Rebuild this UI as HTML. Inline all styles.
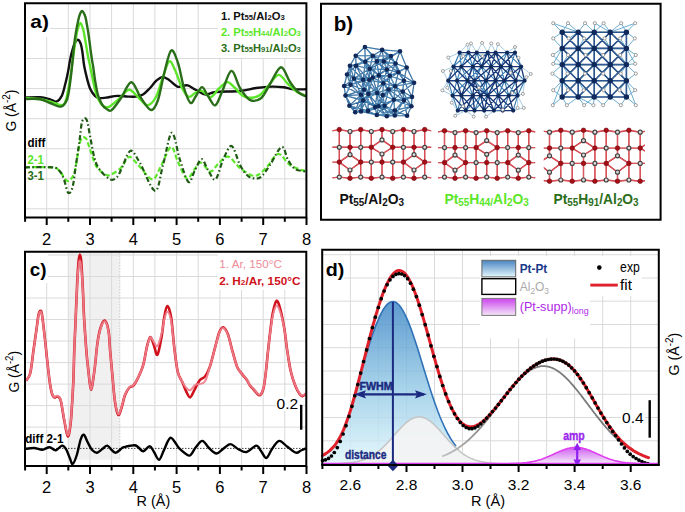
<!DOCTYPE html>
<html><head><meta charset="utf-8"><title>Figure</title>
<style>
html,body{margin:0;padding:0;background:#fff;}
svg{display:block;font-family:"Liberation Sans", sans-serif;}
</style></head><body>
<svg width="685" height="512" viewBox="0 0 685 512">
<rect width="685" height="512" fill="#fff"/>
<line x1="46.7" y1="3" x2="46.7" y2="217" stroke="#dadada" stroke-width="1"/>
<line x1="68.3" y1="3" x2="68.3" y2="217" stroke="#dadada" stroke-width="1"/>
<line x1="90" y1="3" x2="90" y2="217" stroke="#dadada" stroke-width="1"/>
<line x1="111.6" y1="3" x2="111.6" y2="217" stroke="#dadada" stroke-width="1"/>
<line x1="133.3" y1="3" x2="133.3" y2="217" stroke="#dadada" stroke-width="1"/>
<line x1="154.9" y1="3" x2="154.9" y2="217" stroke="#dadada" stroke-width="1"/>
<line x1="176.6" y1="3" x2="176.6" y2="217" stroke="#dadada" stroke-width="1"/>
<line x1="198.2" y1="3" x2="198.2" y2="217" stroke="#dadada" stroke-width="1"/>
<line x1="219.9" y1="3" x2="219.9" y2="217" stroke="#dadada" stroke-width="1"/>
<line x1="241.6" y1="3" x2="241.6" y2="217" stroke="#dadada" stroke-width="1"/>
<line x1="263.2" y1="3" x2="263.2" y2="217" stroke="#dadada" stroke-width="1"/>
<line x1="284.8" y1="3" x2="284.8" y2="217" stroke="#dadada" stroke-width="1"/>
<line x1="25" y1="28.5" x2="306" y2="28.5" stroke="#dadada" stroke-width="1"/>
<line x1="25" y1="58.5" x2="306" y2="58.5" stroke="#dadada" stroke-width="1"/>
<line x1="25" y1="88.6" x2="306" y2="88.6" stroke="#dadada" stroke-width="1"/>
<line x1="25" y1="118.7" x2="306" y2="118.7" stroke="#dadada" stroke-width="1"/>
<line x1="25" y1="148.7" x2="306" y2="148.7" stroke="#dadada" stroke-width="1"/>
<line x1="25" y1="178.8" x2="306" y2="178.8" stroke="#dadada" stroke-width="1"/>
<line x1="25" y1="208.8" x2="306" y2="208.8" stroke="#dadada" stroke-width="1"/>
<rect x="26" y="4" width="24" height="33" fill="#fff"/>
<rect x="218" y="4" width="87" height="53.8" fill="#fff"/>
<path d="M25,97.5 C27.5,97.5 35.8,96.9 40,97.2 C44.2,97.5 47.3,98.6 50,99.3 C52.7,100 54.4,102.1 56.4,101.6 C58.4,101 60.2,98.9 61.7,96 C63.2,93.1 64.1,88.4 65.2,84.3 C66.3,80.2 67.3,75.5 68.1,71.5 C68.9,67.5 69.3,63.7 70,60.3 C70.7,56.9 71.4,53.7 72.2,50.9 C73,48.1 73.7,45.5 74.6,43.6 C75.5,41.8 76.8,39.8 77.8,39.8 C78.8,39.8 79.8,41.5 80.6,43.5 C81.4,45.5 81.8,48.2 82.4,52 C83,55.8 83.4,61.6 84.2,66 C85,70.4 86,74.5 87,78.4 C88,82.3 89,86.3 90.4,89.3 C91.8,92.3 93.7,94.7 95.2,96.2 C96.7,97.7 97.5,98 99.3,98.2 C101.1,98.4 103,98 106,97.6 C109,97.2 113.9,96.1 117.6,95.9 C121.3,95.7 124.9,96.5 128,96.6 C131.1,96.7 133.5,96.9 136,96.6 C138.5,96.2 140.7,95.9 143,94.5 C145.3,93.1 147.8,90.2 150,88 C152.2,85.8 153.9,82.8 156,81 C158.1,79.2 160.2,77.3 162.4,77.1 C164.6,76.9 166.5,78.4 169,80 C171.5,81.6 175.1,85.6 177.3,86.6 C179.5,87.6 180.2,86.2 182,86 C183.8,85.8 185.6,84.7 187.9,85.4 C190.2,86.1 193.1,88.5 196,90 C198.9,91.5 202.1,94.2 205.4,94.5 C208.7,94.8 210.2,92.6 216,92 C221.8,91.4 233.3,91.7 240,91 C246.7,90.3 250.7,88.7 256,88 C261.3,87.3 267.4,86.7 272,86.6 C276.6,86.5 280,86.8 283.5,87.2 C287,87.7 289.2,89 293,89.3 C296.8,89.6 303.8,89.3 306,89.3" fill="none" stroke="#111" stroke-width="2.4"/>
<path d="M25,98 C27.5,98.2 35.8,98.4 40,99 C44.2,99.6 46.5,100.5 50,101.5 C53.5,102.5 58.6,105.1 61.1,105.2 C63.6,105.3 64,104.4 65.2,101.9 C66.4,99.4 67.1,95.1 68.1,90.2 C69.1,85.3 70.2,77.5 71,72.6 C71.8,67.7 72.1,64.6 72.6,61 C73.1,57.4 73.5,54.5 74,50.9 C74.5,47.3 75.1,43.1 75.7,39.5 C76.3,35.9 76.8,32.2 77.6,29.5 C78.4,26.8 79.5,23 80.4,23 C81.3,23 82.4,26.8 83.2,29.5 C84,32.2 84.5,36.1 85.1,39.2 C85.7,42.3 86.1,45 86.6,48 C87.1,51 87.5,53.8 88.1,57 C88.7,60.2 89.6,63.4 90.4,67.4 C91.2,71.4 92.1,76.5 93.1,81.1 C94.1,85.7 95.1,90.9 96.5,94.8 C97.9,98.7 99.7,102.1 101.3,104.2 C102.9,106.3 104.5,106.9 106,107.2 C107.5,107.5 108.2,107.4 110.5,105.9 C112.8,104.4 116.9,100.7 120,98 C123.1,95.3 126,90 129,89.8 C132,89.6 134.9,94.4 138,97 C141.1,99.6 144.5,105.2 147.5,105.2 C150.5,105.2 153.6,101.2 156,97 C158.4,92.8 159.8,85.9 162,80 C164.2,74.1 166.8,63.3 169,61.6 C171.2,59.9 172.8,65.6 175,70 C177.2,74.4 179.7,83.5 182,88 C184.3,92.5 186.6,96 188.8,96.8 C191,97.6 193,94 195,93 C197,92 199.2,90.4 201,90.6 C202.8,90.8 204.3,92.9 206,94 C207.7,95.1 209.1,97.9 211.3,97 C213.5,96.1 216.3,91 219,88.5 C221.7,86 224.6,82.2 227.3,82.1 C230,82 232.4,85.7 235,88 C237.6,90.3 240.3,94.4 243,96 C245.7,97.6 248.6,97.9 251.4,97.7 C254.2,97.5 257.1,97.1 260,95 C262.9,92.9 265.9,88.3 269,85 C272.1,81.7 275.4,75.1 278.6,74.9 C281.8,74.7 284.9,81.2 288,84 C291.1,86.8 294,90 297,92 C300,94 304.5,95.1 306,95.7" fill="none" stroke="#5ce62a" stroke-width="2.4"/>
<path d="M25,99 C27.5,99 35.8,98.5 40,99.2 C44.2,99.9 46.5,101.8 50,103 C53.5,104.2 58.3,107.2 61.1,106.6 C63.9,106 65.5,103.2 67,99.5 C68.5,95.8 69,90.4 69.9,84.3 C70.8,78.2 71.7,69.4 72.4,63 C73.1,56.6 73.4,51 74,46 C74.6,41 75.1,37.5 75.8,33.3 C76.5,29 77.5,23.8 78.2,20.5 C78.9,17.2 79.5,15.1 80.2,13.5 C80.9,11.9 81.5,10.9 82.2,11 C82.9,11.1 83.6,12.6 84.2,13.8 C84.8,15.1 85.3,16.2 85.8,18.5 C86.3,20.8 86.8,23.9 87.4,27.4 C88,30.8 88.7,35.3 89.2,39.2 C89.8,43.1 90.2,47.5 90.7,51 C91.2,54.5 91.6,57.3 92,60 C92.4,62.7 92.8,63.9 93.3,67.4 C93.8,70.9 94.4,76.5 95.2,81.1 C96,85.7 96.8,90.9 97.9,94.8 C99,98.7 100.7,102.1 102,104.4 C103.3,106.7 104.4,107.5 106,108.5 C107.6,109.5 108.9,112 111.4,110.3 C113.9,108.5 117.7,102.7 121,98 C124.3,93.3 128,82.2 131.3,82.2 C134.6,82.2 137.7,93.4 141,98 C144.3,102.6 148.2,109.7 151,110 C153.8,110.3 155.8,106.3 158,100 C160.2,93.7 162.3,80.2 164.5,72 C166.7,63.8 168.9,52 171.2,50.5 C173.4,49 175.9,56.8 178,63 C180.1,69.2 181.9,81.3 184,88 C186.1,94.7 188.5,101.6 190.5,102.9 C192.5,104.2 194.1,98.6 196,96 C197.9,93.4 200,87.1 202,87.1 C204,87.1 205.8,93 208,96 C210.2,99 212.9,106.1 215.2,105.4 C217.5,104.7 219.3,97.8 222,92 C224.7,86.2 228.3,71.6 231.3,70.9 C234.3,70.2 236.9,83.2 240,88 C243.1,92.8 246.3,98.1 249.8,99.8 C253.3,101.5 257.6,100.8 261,98.2 C264.4,95.6 266.7,89.2 270,84 C273.3,78.8 277.7,67.6 281,67.3 C284.3,67 287.2,77.9 290,82 C292.8,86.1 295.3,89.6 298,92 C300.7,94.4 304.7,95.8 306,96.5" fill="none" stroke="#2b6e1a" stroke-width="2.4"/>
<path d="M25,167.3 C29.5,167.3 46.3,166.8 52,167.3 C57.7,167.9 56.9,168.4 59.3,170.6 C61.7,172.8 64.5,178.8 66.4,180.3 C68.3,181.8 69.3,181.2 70.8,179.4 C72.2,177.7 73.5,176.2 75.1,169.8 C76.7,163.4 78.6,146.1 80.4,140.8 C82.2,135.5 84.2,137.1 85.7,138.1 C87.2,139.1 87.5,142.2 89.2,146.9 C91,151.6 93.6,161.7 96.2,166.2 C98.8,170.7 102.7,172.6 105,174.1 C107.3,175.6 107.7,176 110.3,175 C112.9,174 118.2,170.5 120.8,168 C123.4,165.5 124.5,161.9 126.1,160.1 C127.7,158.3 128.2,155.9 130.5,157.1 C132.8,158.2 136.3,163.3 140,167 C143.7,170.7 149,179.6 152.5,179.4 C156,179.2 157.9,171.4 161,166 C164.1,160.6 168.2,147.6 171,146.9 C173.8,146.2 175.4,156.7 178,162 C180.6,167.3 184.1,177.2 186.8,178.5 C189.5,179.8 191.7,172.6 194,170 C196.3,167.4 198.1,162.4 200.8,162.7 C203.6,162.9 207.6,171.3 210.5,171.5 C213.4,171.7 215.1,166.5 218,164 C220.9,161.5 224.3,155.9 228,156.6 C231.7,157.3 235.6,164.8 240,168 C244.4,171.2 250.2,175.9 254.5,175.9 C258.8,175.9 262.1,171.7 266,168 C269.9,164.3 274.2,154.5 278.2,154 C282.2,153.5 285.4,162.1 290,165 C294.6,167.9 303.3,170.4 306,171.5" fill="none" stroke="#5ce62a" stroke-width="2.2" stroke-linejoin="round" stroke-dasharray="5,2.5"/>
<path d="M25,167.3 C29.5,167.3 46.3,166.8 52,167.3 C57.7,167.9 57.3,168.7 59.3,170.6 C61.2,172.5 62.2,174.8 63.7,178.5 C65.2,182.2 66.6,191.1 68.1,192.6 C69.6,194.1 71.2,192 72.5,187.3 C73.8,182.6 74.8,172.2 76,164.5 C77.2,156.8 78.5,148 79.5,140.8 C80.5,133.6 81,124.9 82.2,121.4 C83.4,117.9 85.3,117.2 86.6,119.7 C87.9,122.2 88.8,130 90.1,136.4 C91.4,142.8 92.9,152.7 94.5,158.3 C96.1,163.9 97.2,166.3 99.8,169.8 C102.4,173.3 107.4,178.2 110.3,179.4 C113.2,180.6 115.2,179 117.3,176.8 C119.3,174.6 120.8,170 122.6,166.2 C124.4,162.4 126.3,156.4 127.9,153.9 C129.5,151.4 130.3,149.8 132.3,151.3 C134.3,152.8 136.2,156.4 140,163 C143.8,169.6 151.3,190.5 155.1,190.8 C158.9,191.1 160.2,174.7 163,165 C165.8,155.3 169,133.6 171.8,132.8 C174.6,132 177.2,151.8 180,160 C182.8,168.2 186,180.3 188.5,182 C191,183.7 192.8,173.8 195,170 C197.2,166.2 199.5,159.2 201.7,159.2 C203.9,159.2 205.7,166.6 208,170 C210.3,173.4 213,181.1 215.5,179.4 C218,177.7 220.3,165.6 223,160 C225.7,154.4 228.8,145.2 231.6,146 C234.4,146.8 237.3,160 240,165 C242.7,170 245.3,173.8 248,176 C250.7,178.2 253.9,178.5 256.2,178.5 C258.5,178.5 259.7,178.2 262,176 C264.3,173.8 266.7,169.8 270,165 C273.3,160.2 278.7,147.7 281.7,146.9 C284.7,146.1 285.8,156.3 288,160 C290.2,163.7 292,167 295,168.9 C298,170.8 304.2,171.1 306,171.5" fill="none" stroke="#1f5a14" stroke-width="2.2" stroke-linejoin="round" stroke-dasharray="5,2.5,1.5,2.5"/>
<path d="M25,3.2 H306.4 V217.5 H25 Z" fill="none" stroke="#000" stroke-width="2"/>
<line x1="46.7" y1="217.5" x2="46.7" y2="225" stroke="#000" stroke-width="2"/>
<text x="46.7" y="244.5" font-size="16.5" fill="#000" font-weight="normal" text-anchor="middle">2</text>
<line x1="90" y1="217.5" x2="90" y2="225" stroke="#000" stroke-width="2"/>
<text x="90" y="244.5" font-size="16.5" fill="#000" font-weight="normal" text-anchor="middle">3</text>
<line x1="133.3" y1="217.5" x2="133.3" y2="225" stroke="#000" stroke-width="2"/>
<text x="133.3" y="244.5" font-size="16.5" fill="#000" font-weight="normal" text-anchor="middle">4</text>
<line x1="176.6" y1="217.5" x2="176.6" y2="225" stroke="#000" stroke-width="2"/>
<text x="176.6" y="244.5" font-size="16.5" fill="#000" font-weight="normal" text-anchor="middle">5</text>
<line x1="219.9" y1="217.5" x2="219.9" y2="225" stroke="#000" stroke-width="2"/>
<text x="219.9" y="244.5" font-size="16.5" fill="#000" font-weight="normal" text-anchor="middle">6</text>
<line x1="263.2" y1="217.5" x2="263.2" y2="225" stroke="#000" stroke-width="2"/>
<text x="263.2" y="244.5" font-size="16.5" fill="#000" font-weight="normal" text-anchor="middle">7</text>
<line x1="306.5" y1="217.5" x2="306.5" y2="225" stroke="#000" stroke-width="2"/>
<text x="306.5" y="244.5" font-size="16.5" fill="#000" font-weight="normal" text-anchor="middle">8</text>
<line x1="25.1" y1="217.5" x2="25.1" y2="221.8" stroke="#000" stroke-width="2"/>
<line x1="68.3" y1="217.5" x2="68.3" y2="221.8" stroke="#000" stroke-width="2"/>
<line x1="111.6" y1="217.5" x2="111.6" y2="221.8" stroke="#000" stroke-width="2"/>
<line x1="154.9" y1="217.5" x2="154.9" y2="221.8" stroke="#000" stroke-width="2"/>
<line x1="198.2" y1="217.5" x2="198.2" y2="221.8" stroke="#000" stroke-width="2"/>
<line x1="241.6" y1="217.5" x2="241.6" y2="221.8" stroke="#000" stroke-width="2"/>
<line x1="284.8" y1="217.5" x2="284.8" y2="221.8" stroke="#000" stroke-width="2"/>
<text x="30.3" y="28.1" font-size="19" fill="#000" font-weight="bold" text-anchor="start" textLength="18.6" lengthAdjust="spacingAndGlyphs">a)</text>
<text transform="translate(15.9,131.6) rotate(-90)" font-size="14.8" fill="#000" textLength="42" lengthAdjust="spacingAndGlyphs">G (Å<tspan dy="-6" font-size="10.5">-2</tspan><tspan dy="6">)</tspan></text>
<text x="220.9" y="19.7" font-size="11" font-weight="bold" fill="#111" textLength="63.8" lengthAdjust="spacingAndGlyphs">1. Pt<tspan font-size="7.5">55</tspan>/Al<tspan font-size="7.5">2</tspan>O<tspan font-size="7.5">3</tspan></text>
<text x="220.9" y="35.6" font-size="11" font-weight="bold" fill="#5ce62a" textLength="79.9" lengthAdjust="spacingAndGlyphs">2. Pt<tspan font-size="7.5">55</tspan>H<tspan font-size="7.5">44</tspan>/Al<tspan font-size="7.5">2</tspan>O<tspan font-size="7.5">3</tspan></text>
<text x="220.9" y="51.7" font-size="11" font-weight="bold" fill="#2b6e1a" textLength="79.9" lengthAdjust="spacingAndGlyphs">3. Pt<tspan font-size="7.5">55</tspan>H<tspan font-size="7.5">91</tspan>/Al<tspan font-size="7.5">2</tspan>O<tspan font-size="7.5">3</tspan></text>
<text x="27.4" y="147.1" font-size="12" fill="#000" font-weight="bold" text-anchor="start" textLength="18" lengthAdjust="spacingAndGlyphs">diff</text>
<text x="27.4" y="163.7" font-size="12" fill="#5ce62a" font-weight="bold" text-anchor="start" textLength="16.4" lengthAdjust="spacingAndGlyphs">2-1</text>
<text x="27.4" y="180.4" font-size="12" fill="#2b6e1a" font-weight="bold" text-anchor="start" textLength="16.4" lengthAdjust="spacingAndGlyphs">3-1</text>
<path d="M364.9,47L382.1,49.9M364.9,47L355.7,55.7M364.9,47L372.8,55.7M364.9,47L365.2,61.7M364.9,47L376.8,61.4M382.1,49.9L400,51.2M382.1,49.9L372.8,55.7M382.1,49.9L390.9,56.1M382.1,49.9L376.8,61.4M382.1,49.9L383.9,61.4M382.1,49.9L395.6,63.5M400,51.2L390.9,56.1M400,51.2L383.9,61.4M400,51.2L395.6,63.5M400,51.2L406.7,67.5M355.7,55.7L372.8,55.7M355.7,55.7L365.2,61.7M355.7,55.7L349.9,65.8M355.7,55.7L356.1,65.8M355.7,55.7L369.8,68.7M372.8,55.7L390.9,56.1M372.8,55.7L365.2,61.7M372.8,55.7L376.8,61.4M372.8,55.7L383.9,61.4M372.8,55.7L356.1,65.8M372.8,55.7L369.8,68.7M390.9,56.1L376.8,61.4M390.9,56.1L383.9,61.4M390.9,56.1L395.6,63.5M390.9,56.1L386.8,69.6M390.9,56.1L398.3,72.3M365.2,61.7L376.8,61.4M365.2,61.7L383.9,61.4M365.2,61.7L349.9,65.8M365.2,61.7L356.1,65.8M365.2,61.7L369.8,68.7M365.2,61.7L363.1,79.8M365.2,61.7L369.3,79.8M365.2,61.7L372.8,77.5M365.2,61.7L378.9,75.4M376.8,61.4L383.9,61.4M376.8,61.4L395.6,63.5M376.8,61.4L369.8,68.7M376.8,61.4L386.8,69.6M376.8,61.4L372.8,77.5M376.8,61.4L378.9,75.4M376.8,61.4L389.8,75.8M383.9,61.4L395.6,63.5M383.9,61.4L369.8,68.7M383.9,61.4L386.8,69.6M383.9,61.4L398.3,72.3M383.9,61.4L378.9,75.4M383.9,61.4L389.8,75.8M395.6,63.5L386.8,69.6M395.6,63.5L406.7,67.5M395.6,63.5L398.3,72.3M395.6,63.5L389.8,75.8M395.6,63.5L403.9,80.7M349.9,65.8L356.1,65.8M349.9,65.8L347,74.5M349.9,65.8L354,78.6M349.9,65.8L363.1,79.8M349.9,65.8L350.5,84.7M356.1,65.8L369.8,68.7M356.1,65.8L347,74.5M356.1,65.8L354,78.6M356.1,65.8L363.1,79.8M356.1,65.8L369.3,79.8M369.8,68.7L386.8,69.6M369.8,68.7L354,78.6M369.8,68.7L363.1,79.8M369.8,68.7L369.3,79.8M369.8,68.7L372.8,77.5M369.8,68.7L378.9,75.4M386.8,69.6L398.3,72.3M386.8,69.6L372.8,77.5M386.8,69.6L378.9,75.4M386.8,69.6L389.8,75.8M386.8,69.6L383.3,83.3M386.8,69.6L395.1,86.3M406.7,67.5L398.3,72.3M406.7,67.5L389.8,75.8M406.7,67.5L403.9,80.7M406.7,67.5L414.1,82.8M398.3,72.3L389.8,75.8M398.3,72.3L403.9,80.7M398.3,72.3L414.1,82.8M398.3,72.3L383.3,83.3M398.3,72.3L395.1,86.3M347,74.5L354,78.6M347,74.5L363.1,79.8M347,74.5L344.1,86M347,74.5L350.5,84.7M354,78.6L363.1,79.8M354,78.6L369.3,79.8M354,78.6L372.8,77.5M354,78.6L344.1,86M354,78.6L350.5,84.7M354,78.6L364,89.8M354,78.6L345.5,95.6M354,78.6L361,94.8M363.1,79.8L369.3,79.8M363.1,79.8L372.8,77.5M363.1,79.8L378.9,75.4M363.1,79.8L350.5,84.7M363.1,79.8L364,89.8M363.1,79.8L377.2,93M363.1,79.8L361,94.8M363.1,79.8L368.4,93.9M369.3,79.8L372.8,77.5M369.3,79.8L378.9,75.4M369.3,79.8L350.5,84.7M369.3,79.8L383.3,83.3M369.3,79.8L364,89.8M369.3,79.8L377.2,93M369.3,79.8L361,94.8M369.3,79.8L368.4,93.9M372.8,77.5L378.9,75.4M372.8,77.5L389.8,75.8M372.8,77.5L383.3,83.3M372.8,77.5L364,89.8M372.8,77.5L377.2,93M372.8,77.5L368.4,93.9M378.9,75.4L389.8,75.8M378.9,75.4L383.3,83.3M378.9,75.4L395.1,86.3M378.9,75.4L377.2,93M378.9,75.4L388.6,89.5M389.8,75.8L403.9,80.7M389.8,75.8L383.3,83.3M389.8,75.8L395.1,86.3M389.8,75.8L388.6,89.5M403.9,80.7L414.1,82.8M403.9,80.7L395.1,86.3M403.9,80.7L388.6,89.5M403.9,80.7L402.7,91.6M403.9,80.7L412,96.9M414.1,82.8L395.1,86.3M414.1,82.8L402.7,91.6M414.1,82.8L412,96.9M344.1,86L350.5,84.7M344.1,86L345.5,95.6M344.1,86L361,94.8M350.5,84.7L364,89.8M350.5,84.7L345.5,95.6M350.5,84.7L361,94.8M383.3,83.3L395.1,86.3M383.3,83.3L377.2,93M383.3,83.3L388.6,89.5M383.3,83.3L368.4,93.9M383.3,83.3L382.8,95.1M383.3,83.3L393.9,99.7M395.1,86.3L377.2,93M395.1,86.3L388.6,89.5M395.1,86.3L402.7,91.6M395.1,86.3L382.8,95.1M395.1,86.3L393.9,99.7M395.1,86.3L403.9,100.4M364,89.8L377.2,93M364,89.8L345.5,95.6M364,89.8L361,94.8M364,89.8L368.4,93.9M364,89.8L363.1,100.4M377.2,93L388.6,89.5M377.2,93L361,94.8M377.2,93L368.4,93.9M377.2,93L382.8,95.1M377.2,93L363.1,100.4M377.2,93L393.9,99.7M377.2,93L375.1,107.1M377.2,93L378.6,106.2M377.2,93L384.6,105.7M388.6,89.5L402.7,91.6M388.6,89.5L382.8,95.1M388.6,89.5L393.9,99.7M388.6,89.5L403.9,100.4M388.6,89.5L378.6,106.2M388.6,89.5L384.6,105.7M402.7,91.6L412,96.9M402.7,91.6L393.9,99.7M402.7,91.6L403.9,100.4M402.7,91.6L411.4,106.2M345.5,95.6L361,94.8M345.5,95.6L363.1,100.4M345.5,95.6L349.4,105.7M345.5,95.6L355.2,112.3M361,94.8L368.4,93.9M361,94.8L363.1,100.4M361,94.8L349.4,105.7M361,94.8L375.1,107.1M361,94.8L355.2,112.3M361,94.8L361,111.4M361,94.8L368,110.9M368.4,93.9L382.8,95.1M368.4,93.9L363.1,100.4M368.4,93.9L375.1,107.1M368.4,93.9L378.6,106.2M368.4,93.9L361,111.4M368.4,93.9L368,110.9M382.8,95.1L393.9,99.7M382.8,95.1L375.1,107.1M382.8,95.1L378.6,106.2M382.8,95.1L384.6,105.7M412,96.9L393.9,99.7M412,96.9L403.9,100.4M412,96.9L411.4,106.2M363.1,100.4L349.4,105.7M363.1,100.4L375.1,107.1M363.1,100.4L378.6,106.2M363.1,100.4L355.2,112.3M363.1,100.4L361,111.4M363.1,100.4L368,110.9M393.9,99.7L403.9,100.4M393.9,99.7L378.6,106.2M393.9,99.7L384.6,105.7M393.9,99.7L411.4,106.2M393.9,99.7L386.8,116.2M393.9,99.7L394.8,115.5M393.9,99.7L394.8,110.6M403.9,100.4L411.4,106.2M403.9,100.4L394.8,115.5M403.9,100.4L407.1,115.8M403.9,100.4L394.8,110.6M349.4,105.7L355.2,112.3M349.4,105.7L361,111.4M349.4,105.7L368,110.9M375.1,107.1L378.6,106.2M375.1,107.1L384.6,105.7M375.1,107.1L361,111.4M375.1,107.1L368,110.9M375.1,107.1L376.8,115M375.1,107.1L386.8,116.2M378.6,106.2L384.6,105.7M378.6,106.2L361,111.4M378.6,106.2L368,110.9M378.6,106.2L376.8,115M378.6,106.2L386.8,116.2M378.6,106.2L394.8,115.5M378.6,106.2L394.8,110.6M384.6,105.7L368,110.9M384.6,105.7L376.8,115M384.6,105.7L386.8,116.2M384.6,105.7L394.8,115.5M384.6,105.7L394.8,110.6M411.4,106.2L394.8,115.5M411.4,106.2L407.1,115.8M411.4,106.2L394.8,110.6M355.2,112.3L361,111.4M355.2,112.3L368,110.9M361,111.4L368,110.9M361,111.4L376.8,115M368,110.9L376.8,115M376.8,115L386.8,116.2M376.8,115L394.8,115.5M376.8,115L394.8,110.6M386.8,116.2L394.8,115.5M386.8,116.2L394.8,110.6M394.8,115.5L407.1,115.8M394.8,115.5L394.8,110.6M407.1,115.8L394.8,110.6" stroke="#23568f" stroke-width="1.15" fill="none"/>
<path d="M364.9,47L382.1,49.9M364.9,47L355.7,55.7M364.9,47L372.8,55.7M364.9,47L365.2,61.7M364.9,47L376.8,61.4M382.1,49.9L400,51.2M382.1,49.9L372.8,55.7M382.1,49.9L390.9,56.1M382.1,49.9L376.8,61.4M382.1,49.9L383.9,61.4M382.1,49.9L395.6,63.5M400,51.2L390.9,56.1M400,51.2L383.9,61.4M400,51.2L395.6,63.5M400,51.2L406.7,67.5M355.7,55.7L372.8,55.7M355.7,55.7L365.2,61.7M355.7,55.7L349.9,65.8M355.7,55.7L356.1,65.8M355.7,55.7L369.8,68.7M372.8,55.7L390.9,56.1M372.8,55.7L365.2,61.7M372.8,55.7L376.8,61.4M372.8,55.7L383.9,61.4M372.8,55.7L356.1,65.8M372.8,55.7L369.8,68.7M390.9,56.1L376.8,61.4M390.9,56.1L383.9,61.4M390.9,56.1L395.6,63.5M390.9,56.1L386.8,69.6M390.9,56.1L398.3,72.3M365.2,61.7L376.8,61.4M365.2,61.7L383.9,61.4M365.2,61.7L349.9,65.8M365.2,61.7L356.1,65.8M365.2,61.7L369.8,68.7M365.2,61.7L363.1,79.8M365.2,61.7L369.3,79.8M365.2,61.7L372.8,77.5M365.2,61.7L378.9,75.4M376.8,61.4L383.9,61.4M376.8,61.4L395.6,63.5M376.8,61.4L369.8,68.7M376.8,61.4L386.8,69.6M376.8,61.4L372.8,77.5M376.8,61.4L378.9,75.4M376.8,61.4L389.8,75.8M383.9,61.4L395.6,63.5M383.9,61.4L369.8,68.7M383.9,61.4L386.8,69.6M383.9,61.4L398.3,72.3M383.9,61.4L378.9,75.4M383.9,61.4L389.8,75.8M395.6,63.5L386.8,69.6M395.6,63.5L406.7,67.5M395.6,63.5L398.3,72.3M395.6,63.5L389.8,75.8M395.6,63.5L403.9,80.7M349.9,65.8L356.1,65.8M349.9,65.8L347,74.5M349.9,65.8L354,78.6M349.9,65.8L363.1,79.8M349.9,65.8L350.5,84.7M356.1,65.8L369.8,68.7M356.1,65.8L347,74.5M356.1,65.8L354,78.6M356.1,65.8L363.1,79.8M356.1,65.8L369.3,79.8M369.8,68.7L386.8,69.6M369.8,68.7L354,78.6M369.8,68.7L363.1,79.8M369.8,68.7L369.3,79.8M369.8,68.7L372.8,77.5M369.8,68.7L378.9,75.4M386.8,69.6L398.3,72.3M386.8,69.6L372.8,77.5M386.8,69.6L378.9,75.4M386.8,69.6L389.8,75.8M386.8,69.6L383.3,83.3M386.8,69.6L395.1,86.3M406.7,67.5L398.3,72.3M406.7,67.5L389.8,75.8M406.7,67.5L403.9,80.7M406.7,67.5L414.1,82.8M398.3,72.3L389.8,75.8M398.3,72.3L403.9,80.7M398.3,72.3L414.1,82.8M398.3,72.3L383.3,83.3M398.3,72.3L395.1,86.3M347,74.5L354,78.6M347,74.5L363.1,79.8M347,74.5L344.1,86M347,74.5L350.5,84.7M354,78.6L363.1,79.8M354,78.6L369.3,79.8M354,78.6L372.8,77.5M354,78.6L344.1,86M354,78.6L350.5,84.7M354,78.6L364,89.8M354,78.6L345.5,95.6M354,78.6L361,94.8M363.1,79.8L369.3,79.8M363.1,79.8L372.8,77.5M363.1,79.8L378.9,75.4M363.1,79.8L350.5,84.7M363.1,79.8L364,89.8M363.1,79.8L377.2,93M363.1,79.8L361,94.8M363.1,79.8L368.4,93.9M369.3,79.8L372.8,77.5M369.3,79.8L378.9,75.4M369.3,79.8L350.5,84.7M369.3,79.8L383.3,83.3M369.3,79.8L364,89.8M369.3,79.8L377.2,93M369.3,79.8L361,94.8M369.3,79.8L368.4,93.9M372.8,77.5L378.9,75.4M372.8,77.5L389.8,75.8M372.8,77.5L383.3,83.3M372.8,77.5L364,89.8M372.8,77.5L377.2,93M372.8,77.5L368.4,93.9M378.9,75.4L389.8,75.8M378.9,75.4L383.3,83.3M378.9,75.4L395.1,86.3M378.9,75.4L377.2,93M378.9,75.4L388.6,89.5M389.8,75.8L403.9,80.7M389.8,75.8L383.3,83.3M389.8,75.8L395.1,86.3M389.8,75.8L388.6,89.5M403.9,80.7L414.1,82.8M403.9,80.7L395.1,86.3M403.9,80.7L388.6,89.5M403.9,80.7L402.7,91.6M403.9,80.7L412,96.9M414.1,82.8L395.1,86.3M414.1,82.8L402.7,91.6M414.1,82.8L412,96.9M344.1,86L350.5,84.7M344.1,86L345.5,95.6M344.1,86L361,94.8M350.5,84.7L364,89.8M350.5,84.7L345.5,95.6M350.5,84.7L361,94.8M383.3,83.3L395.1,86.3M383.3,83.3L377.2,93M383.3,83.3L388.6,89.5M383.3,83.3L368.4,93.9M383.3,83.3L382.8,95.1M383.3,83.3L393.9,99.7M395.1,86.3L377.2,93M395.1,86.3L388.6,89.5M395.1,86.3L402.7,91.6M395.1,86.3L382.8,95.1M395.1,86.3L393.9,99.7M395.1,86.3L403.9,100.4M364,89.8L377.2,93M364,89.8L345.5,95.6M364,89.8L361,94.8M364,89.8L368.4,93.9M364,89.8L363.1,100.4M377.2,93L388.6,89.5M377.2,93L361,94.8M377.2,93L368.4,93.9M377.2,93L382.8,95.1M377.2,93L363.1,100.4M377.2,93L393.9,99.7M377.2,93L375.1,107.1M377.2,93L378.6,106.2M377.2,93L384.6,105.7M388.6,89.5L402.7,91.6M388.6,89.5L382.8,95.1M388.6,89.5L393.9,99.7M388.6,89.5L403.9,100.4M388.6,89.5L378.6,106.2M388.6,89.5L384.6,105.7M402.7,91.6L412,96.9M402.7,91.6L393.9,99.7M402.7,91.6L403.9,100.4M402.7,91.6L411.4,106.2M345.5,95.6L361,94.8M345.5,95.6L363.1,100.4M345.5,95.6L349.4,105.7M345.5,95.6L355.2,112.3M361,94.8L368.4,93.9M361,94.8L363.1,100.4M361,94.8L349.4,105.7M361,94.8L375.1,107.1M361,94.8L355.2,112.3M361,94.8L361,111.4M361,94.8L368,110.9M368.4,93.9L382.8,95.1M368.4,93.9L363.1,100.4M368.4,93.9L375.1,107.1M368.4,93.9L378.6,106.2M368.4,93.9L361,111.4M368.4,93.9L368,110.9M382.8,95.1L393.9,99.7M382.8,95.1L375.1,107.1M382.8,95.1L378.6,106.2M382.8,95.1L384.6,105.7M412,96.9L393.9,99.7M412,96.9L403.9,100.4M412,96.9L411.4,106.2M363.1,100.4L349.4,105.7M363.1,100.4L375.1,107.1M363.1,100.4L378.6,106.2M363.1,100.4L355.2,112.3M363.1,100.4L361,111.4M363.1,100.4L368,110.9M393.9,99.7L403.9,100.4M393.9,99.7L378.6,106.2M393.9,99.7L384.6,105.7M393.9,99.7L411.4,106.2M393.9,99.7L386.8,116.2M393.9,99.7L394.8,115.5M393.9,99.7L394.8,110.6M403.9,100.4L411.4,106.2M403.9,100.4L394.8,115.5M403.9,100.4L407.1,115.8M403.9,100.4L394.8,110.6M349.4,105.7L355.2,112.3M349.4,105.7L361,111.4M349.4,105.7L368,110.9M375.1,107.1L378.6,106.2M375.1,107.1L384.6,105.7M375.1,107.1L361,111.4M375.1,107.1L368,110.9M375.1,107.1L376.8,115M375.1,107.1L386.8,116.2M378.6,106.2L384.6,105.7M378.6,106.2L361,111.4M378.6,106.2L368,110.9M378.6,106.2L376.8,115M378.6,106.2L386.8,116.2M378.6,106.2L394.8,115.5M378.6,106.2L394.8,110.6M384.6,105.7L368,110.9M384.6,105.7L376.8,115M384.6,105.7L386.8,116.2M384.6,105.7L394.8,115.5M384.6,105.7L394.8,110.6M411.4,106.2L394.8,115.5M411.4,106.2L407.1,115.8M411.4,106.2L394.8,110.6M355.2,112.3L361,111.4M355.2,112.3L368,110.9M361,111.4L368,110.9M361,111.4L376.8,115M368,110.9L376.8,115M376.8,115L386.8,116.2M376.8,115L394.8,115.5M376.8,115L394.8,110.6M386.8,116.2L394.8,115.5M386.8,116.2L394.8,110.6M394.8,115.5L407.1,115.8M394.8,115.5L394.8,110.6M407.1,115.8L394.8,110.6" stroke="#6fb6d6" stroke-width="0.4" fill="none"/>
<circle cx="364.9" cy="47" r="2.3" fill="#10295a"/><circle cx="382.1" cy="49.9" r="2.3" fill="#10295a"/><circle cx="400" cy="51.2" r="2.3" fill="#10295a"/><circle cx="355.7" cy="55.7" r="2.3" fill="#10295a"/><circle cx="372.8" cy="55.7" r="2.3" fill="#10295a"/><circle cx="390.9" cy="56.1" r="2.3" fill="#10295a"/><circle cx="365.2" cy="61.7" r="2.3" fill="#10295a"/><circle cx="376.8" cy="61.4" r="2.3" fill="#10295a"/><circle cx="383.9" cy="61.4" r="2.3" fill="#10295a"/><circle cx="395.6" cy="63.5" r="2.3" fill="#10295a"/><circle cx="349.9" cy="65.8" r="2.3" fill="#10295a"/><circle cx="356.1" cy="65.8" r="2.3" fill="#10295a"/><circle cx="369.8" cy="68.7" r="2.3" fill="#10295a"/><circle cx="386.8" cy="69.6" r="2.3" fill="#10295a"/><circle cx="406.7" cy="67.5" r="2.3" fill="#10295a"/><circle cx="398.3" cy="72.3" r="2.3" fill="#10295a"/><circle cx="347" cy="74.5" r="2.3" fill="#10295a"/><circle cx="354" cy="78.6" r="2.3" fill="#10295a"/><circle cx="363.1" cy="79.8" r="2.3" fill="#10295a"/><circle cx="369.3" cy="79.8" r="2.3" fill="#10295a"/><circle cx="372.8" cy="77.5" r="2.3" fill="#10295a"/><circle cx="378.9" cy="75.4" r="2.3" fill="#10295a"/><circle cx="389.8" cy="75.8" r="2.3" fill="#10295a"/><circle cx="403.9" cy="80.7" r="2.3" fill="#10295a"/><circle cx="414.1" cy="82.8" r="2.3" fill="#10295a"/><circle cx="344.1" cy="86" r="2.3" fill="#10295a"/><circle cx="350.5" cy="84.7" r="2.3" fill="#10295a"/><circle cx="383.3" cy="83.3" r="2.3" fill="#10295a"/><circle cx="395.1" cy="86.3" r="2.3" fill="#10295a"/><circle cx="364" cy="89.8" r="2.3" fill="#10295a"/><circle cx="377.2" cy="93" r="2.3" fill="#10295a"/><circle cx="388.6" cy="89.5" r="2.3" fill="#10295a"/><circle cx="402.7" cy="91.6" r="2.3" fill="#10295a"/><circle cx="345.5" cy="95.6" r="2.3" fill="#10295a"/><circle cx="361" cy="94.8" r="2.3" fill="#10295a"/><circle cx="368.4" cy="93.9" r="2.3" fill="#10295a"/><circle cx="382.8" cy="95.1" r="2.3" fill="#10295a"/><circle cx="412" cy="96.9" r="2.3" fill="#10295a"/><circle cx="363.1" cy="100.4" r="2.3" fill="#10295a"/><circle cx="393.9" cy="99.7" r="2.3" fill="#10295a"/><circle cx="403.9" cy="100.4" r="2.3" fill="#10295a"/><circle cx="349.4" cy="105.7" r="2.3" fill="#10295a"/><circle cx="375.1" cy="107.1" r="2.3" fill="#10295a"/><circle cx="378.6" cy="106.2" r="2.3" fill="#10295a"/><circle cx="384.6" cy="105.7" r="2.3" fill="#10295a"/><circle cx="411.4" cy="106.2" r="2.3" fill="#10295a"/><circle cx="355.2" cy="112.3" r="2.3" fill="#10295a"/><circle cx="361" cy="111.4" r="2.3" fill="#10295a"/><circle cx="368" cy="110.9" r="2.3" fill="#10295a"/><circle cx="376.8" cy="115" r="2.3" fill="#10295a"/><circle cx="386.8" cy="116.2" r="2.3" fill="#10295a"/><circle cx="394.8" cy="115.5" r="2.3" fill="#10295a"/><circle cx="407.1" cy="115.8" r="2.3" fill="#10295a"/><circle cx="394.8" cy="110.6" r="2.3" fill="#10295a"/>
<path d="M459.6,52.6L453.5,66.6M459.6,52.6L461.4,66.6M459.6,52.6L472.8,66.6M468.4,52.6L453.5,66.6M468.4,52.6L461.4,66.6M468.4,52.6L472.8,66.6M476.8,52.6L472.8,66.6M476.8,52.6L481.6,66.6M476.8,52.6L491.2,66.6M507.1,52.6L491.2,66.6M507.1,52.6L500.9,66.6M507.1,52.6L521.1,66.6M515,52.6L510.6,66.6M453.5,66.6L457,80.7M461.4,66.6L457,80.7M461.4,66.6L467.5,80.7M472.8,66.6L457,80.7M472.8,66.6L474.5,80.7M481.6,66.6L467.5,80.7M481.6,66.6L474.5,80.7M481.6,66.6L486,80.7M481.6,66.6L495.6,80.7M500.9,66.6L504.4,80.7M510.6,66.6L495.6,80.7M510.6,66.6L524.6,80.7M448.2,80.7L452.6,95.6M457,80.7L452.6,95.6M457,80.7L472.8,95.6M467.5,80.7L452.6,95.6M467.5,80.7L472.8,95.6M474.5,80.7L487.7,95.6M486,80.7L480.7,95.6M486,80.7L487.7,95.6M486,80.7L498.3,95.6M495.6,80.7L508.8,95.6M504.4,80.7L498.3,95.6M504.4,80.7L508.8,95.6M504.4,80.7L517.6,95.6M515.8,80.7L508.8,95.6M524.6,80.7L517.6,95.6M452.6,95.6L457.8,110.6M461.4,95.6L457.8,110.6M480.7,95.6L465.8,110.6M480.7,95.6L474.5,110.6M487.7,95.6L474.5,110.6M498.3,95.6L493.9,110.6M508.8,95.6L502.7,110.6M517.6,95.6L513.2,110.6M459.6,52.6L448.2,80.7M476.8,52.6L467.5,80.7M487.7,52.6L474.5,80.7M472.8,66.6L487.7,95.6M510.6,66.6L498.3,95.6" stroke="#3479b0" stroke-width="1.1" fill="none"/>
<path d="M459.6,52.6L468.4,52.6M468.4,52.6L476.8,52.6M476.8,52.6L487.7,52.6M487.7,52.6L495.6,52.6M495.6,52.6L507.1,52.6M507.1,52.6L515,52.6M453.5,66.6L461.4,66.6M461.4,66.6L472.8,66.6M472.8,66.6L481.6,66.6M481.6,66.6L491.2,66.6M491.2,66.6L500.9,66.6M500.9,66.6L510.6,66.6M510.6,66.6L521.1,66.6M448.2,80.7L457,80.7M457,80.7L467.5,80.7M467.5,80.7L474.5,80.7M474.5,80.7L486,80.7M486,80.7L495.6,80.7M495.6,80.7L504.4,80.7M504.4,80.7L515.8,80.7M515.8,80.7L524.6,80.7M452.6,95.6L461.4,95.6M461.4,95.6L472.8,95.6M472.8,95.6L480.7,95.6M480.7,95.6L487.7,95.6M487.7,95.6L498.3,95.6M498.3,95.6L508.8,95.6M508.8,95.6L517.6,95.6M457.8,110.6L465.8,110.6M465.8,110.6L474.5,110.6M474.5,110.6L484.2,110.6M484.2,110.6L493.9,110.6M493.9,110.6L502.7,110.6M502.7,110.6L513.2,110.6M468.4,52.6L481.6,66.6M476.8,52.6L461.4,66.6M487.7,52.6L472.8,66.6M487.7,52.6L481.6,66.6M487.7,52.6L491.2,66.6M487.7,52.6L500.9,66.6M495.6,52.6L481.6,66.6M495.6,52.6L491.2,66.6M495.6,52.6L500.9,66.6M495.6,52.6L510.6,66.6M507.1,52.6L510.6,66.6M515,52.6L500.9,66.6M515,52.6L521.1,66.6M453.5,66.6L448.2,80.7M453.5,66.6L467.5,80.7M461.4,66.6L448.2,80.7M461.4,66.6L474.5,80.7M472.8,66.6L467.5,80.7M472.8,66.6L486,80.7M491.2,66.6L474.5,80.7M491.2,66.6L486,80.7M491.2,66.6L495.6,80.7M491.2,66.6L504.4,80.7M500.9,66.6L486,80.7M500.9,66.6L495.6,80.7M500.9,66.6L515.8,80.7M510.6,66.6L504.4,80.7M510.6,66.6L515.8,80.7M521.1,66.6L504.4,80.7M521.1,66.6L515.8,80.7M521.1,66.6L524.6,80.7M448.2,80.7L461.4,95.6M457,80.7L461.4,95.6M467.5,80.7L461.4,95.6M467.5,80.7L480.7,95.6M467.5,80.7L487.7,95.6M474.5,80.7L461.4,95.6M474.5,80.7L472.8,95.6M474.5,80.7L480.7,95.6M486,80.7L472.8,95.6M495.6,80.7L480.7,95.6M495.6,80.7L487.7,95.6M495.6,80.7L498.3,95.6M504.4,80.7L487.7,95.6M515.8,80.7L498.3,95.6M515.8,80.7L517.6,95.6M524.6,80.7L508.8,95.6M452.6,95.6L465.8,110.6M461.4,95.6L465.8,110.6M461.4,95.6L474.5,110.6M472.8,95.6L457.8,110.6M472.8,95.6L465.8,110.6M472.8,95.6L474.5,110.6M472.8,95.6L484.2,110.6M480.7,95.6L484.2,110.6M480.7,95.6L493.9,110.6M487.7,95.6L484.2,110.6M487.7,95.6L493.9,110.6M487.7,95.6L502.7,110.6M498.3,95.6L484.2,110.6M498.3,95.6L502.7,110.6M498.3,95.6L513.2,110.6M508.8,95.6L493.9,110.6M508.8,95.6L513.2,110.6M517.6,95.6L502.7,110.6" stroke="#183a78" stroke-width="1.35" fill="none"/>
<line x1="467.5" y1="44.7" x2="468.4" y2="52.6" stroke="#7fb8d8" stroke-width="0.7"/><line x1="467.5" y1="44.7" x2="459.6" y2="52.6" stroke="#7fb8d8" stroke-width="0.7"/><line x1="471" y1="43.4" x2="468.4" y2="52.6" stroke="#7fb8d8" stroke-width="0.7"/><line x1="471" y1="43.4" x2="476.8" y2="52.6" stroke="#7fb8d8" stroke-width="0.7"/><line x1="482.1" y1="42.9" x2="476.8" y2="52.6" stroke="#7fb8d8" stroke-width="0.7"/><line x1="482.1" y1="42.9" x2="487.7" y2="52.6" stroke="#7fb8d8" stroke-width="0.7"/><line x1="491.2" y1="43.4" x2="487.7" y2="52.6" stroke="#7fb8d8" stroke-width="0.7"/><line x1="491.2" y1="43.4" x2="495.6" y2="52.6" stroke="#7fb8d8" stroke-width="0.7"/><line x1="497.9" y1="44.1" x2="495.6" y2="52.6" stroke="#7fb8d8" stroke-width="0.7"/><line x1="497.9" y1="44.1" x2="507.1" y2="52.6" stroke="#7fb8d8" stroke-width="0.7"/><line x1="515" y1="47" x2="515" y2="52.6" stroke="#7fb8d8" stroke-width="0.7"/><line x1="515" y1="47" x2="507.1" y2="52.6" stroke="#7fb8d8" stroke-width="0.7"/><line x1="448.2" y1="57.5" x2="453.5" y2="66.6" stroke="#7fb8d8" stroke-width="0.7"/><line x1="448.2" y1="57.5" x2="459.6" y2="52.6" stroke="#7fb8d8" stroke-width="0.7"/><line x1="442.9" y1="71" x2="448.2" y2="80.7" stroke="#7fb8d8" stroke-width="0.7"/><line x1="442.9" y1="71" x2="453.5" y2="66.6" stroke="#7fb8d8" stroke-width="0.7"/><line x1="450.8" y1="71" x2="453.5" y2="66.6" stroke="#7fb8d8" stroke-width="0.7"/><line x1="450.8" y1="71" x2="448.2" y2="80.7" stroke="#7fb8d8" stroke-width="0.7"/><line x1="442.4" y1="90.4" x2="448.2" y2="80.7" stroke="#7fb8d8" stroke-width="0.7"/><line x1="442.4" y1="90.4" x2="452.6" y2="95.6" stroke="#7fb8d8" stroke-width="0.7"/><line x1="447.3" y1="87.7" x2="448.2" y2="80.7" stroke="#7fb8d8" stroke-width="0.7"/><line x1="447.3" y1="87.7" x2="452.6" y2="95.6" stroke="#7fb8d8" stroke-width="0.7"/><line x1="518.5" y1="57.8" x2="515" y2="52.6" stroke="#7fb8d8" stroke-width="0.7"/><line x1="518.5" y1="57.8" x2="521.1" y2="66.6" stroke="#7fb8d8" stroke-width="0.7"/><line x1="530.8" y1="74" x2="524.6" y2="80.7" stroke="#7fb8d8" stroke-width="0.7"/><line x1="530.8" y1="74" x2="521.1" y2="66.6" stroke="#7fb8d8" stroke-width="0.7"/><line x1="526.4" y1="77.2" x2="524.6" y2="80.7" stroke="#7fb8d8" stroke-width="0.7"/><line x1="526.4" y1="77.2" x2="515.8" y2="80.7" stroke="#7fb8d8" stroke-width="0.7"/><line x1="522.9" y1="93.9" x2="517.6" y2="95.6" stroke="#7fb8d8" stroke-width="0.7"/><line x1="522.9" y1="93.9" x2="524.6" y2="80.7" stroke="#7fb8d8" stroke-width="0.7"/><line x1="523.8" y1="107.9" x2="513.2" y2="110.6" stroke="#7fb8d8" stroke-width="0.7"/><line x1="523.8" y1="107.9" x2="517.6" y2="95.6" stroke="#7fb8d8" stroke-width="0.7"/><line x1="451.7" y1="102.7" x2="452.6" y2="95.6" stroke="#7fb8d8" stroke-width="0.7"/><line x1="451.7" y1="102.7" x2="457.8" y2="110.6" stroke="#7fb8d8" stroke-width="0.7"/><line x1="455.2" y1="115.8" x2="457.8" y2="110.6" stroke="#7fb8d8" stroke-width="0.7"/><line x1="455.2" y1="115.8" x2="465.8" y2="110.6" stroke="#7fb8d8" stroke-width="0.7"/><line x1="486" y1="116.7" x2="484.2" y2="110.6" stroke="#7fb8d8" stroke-width="0.7"/><line x1="486" y1="116.7" x2="493.9" y2="110.6" stroke="#7fb8d8" stroke-width="0.7"/><line x1="517.6" y1="107.9" x2="513.2" y2="110.6" stroke="#7fb8d8" stroke-width="0.7"/><line x1="517.6" y1="107.9" x2="517.6" y2="95.6" stroke="#7fb8d8" stroke-width="0.7"/><line x1="463.1" y1="106.2" x2="465.8" y2="110.6" stroke="#7fb8d8" stroke-width="0.7"/><line x1="463.1" y1="106.2" x2="457.8" y2="110.6" stroke="#7fb8d8" stroke-width="0.7"/><line x1="482.5" y1="56.1" x2="487.7" y2="52.6" stroke="#7fb8d8" stroke-width="0.7"/><line x1="482.5" y1="56.1" x2="476.8" y2="52.6" stroke="#7fb8d8" stroke-width="0.7"/><line x1="463.1" y1="56.1" x2="459.6" y2="52.6" stroke="#7fb8d8" stroke-width="0.7"/><line x1="463.1" y1="56.1" x2="468.4" y2="52.6" stroke="#7fb8d8" stroke-width="0.7"/><line x1="510.6" y1="72.8" x2="510.6" y2="66.6" stroke="#7fb8d8" stroke-width="0.7"/><line x1="510.6" y1="72.8" x2="515.8" y2="80.7" stroke="#7fb8d8" stroke-width="0.7"/><line x1="478.9" y1="87.7" x2="480.7" y2="95.6" stroke="#7fb8d8" stroke-width="0.7"/><line x1="478.9" y1="87.7" x2="474.5" y2="80.7" stroke="#7fb8d8" stroke-width="0.7"/><line x1="512.3" y1="93" x2="508.8" y2="95.6" stroke="#7fb8d8" stroke-width="0.7"/><line x1="512.3" y1="93" x2="517.6" y2="95.6" stroke="#7fb8d8" stroke-width="0.7"/><line x1="502.7" y1="109.7" x2="502.7" y2="110.6" stroke="#7fb8d8" stroke-width="0.7"/><line x1="502.7" y1="109.7" x2="493.9" y2="110.6" stroke="#7fb8d8" stroke-width="0.7"/><line x1="473.7" y1="116.7" x2="474.5" y2="110.6" stroke="#7fb8d8" stroke-width="0.7"/><line x1="473.7" y1="116.7" x2="465.8" y2="110.6" stroke="#7fb8d8" stroke-width="0.7"/>
<circle cx="459.6" cy="52.6" r="2.1" fill="#10295a"/><circle cx="468.4" cy="52.6" r="2.1" fill="#10295a"/><circle cx="476.8" cy="52.6" r="2.1" fill="#10295a"/><circle cx="487.7" cy="52.6" r="2.1" fill="#10295a"/><circle cx="495.6" cy="52.6" r="2.1" fill="#10295a"/><circle cx="507.1" cy="52.6" r="2.1" fill="#10295a"/><circle cx="515" cy="52.6" r="2.1" fill="#10295a"/><circle cx="453.5" cy="66.6" r="2.1" fill="#10295a"/><circle cx="461.4" cy="66.6" r="2.1" fill="#10295a"/><circle cx="472.8" cy="66.6" r="2.1" fill="#10295a"/><circle cx="481.6" cy="66.6" r="2.1" fill="#10295a"/><circle cx="491.2" cy="66.6" r="2.1" fill="#10295a"/><circle cx="500.9" cy="66.6" r="2.1" fill="#10295a"/><circle cx="510.6" cy="66.6" r="2.1" fill="#10295a"/><circle cx="521.1" cy="66.6" r="2.1" fill="#10295a"/><circle cx="448.2" cy="80.7" r="2.1" fill="#10295a"/><circle cx="457" cy="80.7" r="2.1" fill="#10295a"/><circle cx="467.5" cy="80.7" r="2.1" fill="#10295a"/><circle cx="474.5" cy="80.7" r="2.1" fill="#10295a"/><circle cx="486" cy="80.7" r="2.1" fill="#10295a"/><circle cx="495.6" cy="80.7" r="2.1" fill="#10295a"/><circle cx="504.4" cy="80.7" r="2.1" fill="#10295a"/><circle cx="515.8" cy="80.7" r="2.1" fill="#10295a"/><circle cx="524.6" cy="80.7" r="2.1" fill="#10295a"/><circle cx="452.6" cy="95.6" r="2.1" fill="#10295a"/><circle cx="461.4" cy="95.6" r="2.1" fill="#10295a"/><circle cx="472.8" cy="95.6" r="2.1" fill="#10295a"/><circle cx="480.7" cy="95.6" r="2.1" fill="#10295a"/><circle cx="487.7" cy="95.6" r="2.1" fill="#10295a"/><circle cx="498.3" cy="95.6" r="2.1" fill="#10295a"/><circle cx="508.8" cy="95.6" r="2.1" fill="#10295a"/><circle cx="517.6" cy="95.6" r="2.1" fill="#10295a"/><circle cx="457.8" cy="110.6" r="2.1" fill="#10295a"/><circle cx="465.8" cy="110.6" r="2.1" fill="#10295a"/><circle cx="474.5" cy="110.6" r="2.1" fill="#10295a"/><circle cx="484.2" cy="110.6" r="2.1" fill="#10295a"/><circle cx="493.9" cy="110.6" r="2.1" fill="#10295a"/><circle cx="502.7" cy="110.6" r="2.1" fill="#10295a"/><circle cx="513.2" cy="110.6" r="2.1" fill="#10295a"/>
<circle cx="467.5" cy="44.7" r="1.5" fill="#fff" stroke="#8c8c8c" stroke-width="0.8"/><circle cx="471" cy="43.4" r="1.5" fill="#fff" stroke="#8c8c8c" stroke-width="0.8"/><circle cx="482.1" cy="42.9" r="1.5" fill="#fff" stroke="#8c8c8c" stroke-width="0.8"/><circle cx="491.2" cy="43.4" r="1.5" fill="#fff" stroke="#8c8c8c" stroke-width="0.8"/><circle cx="497.9" cy="44.1" r="1.5" fill="#fff" stroke="#8c8c8c" stroke-width="0.8"/><circle cx="515" cy="47" r="1.5" fill="#fff" stroke="#8c8c8c" stroke-width="0.8"/><circle cx="448.2" cy="57.5" r="1.5" fill="#fff" stroke="#8c8c8c" stroke-width="0.8"/><circle cx="442.9" cy="71" r="1.5" fill="#fff" stroke="#8c8c8c" stroke-width="0.8"/><circle cx="450.8" cy="71" r="1.5" fill="#fff" stroke="#8c8c8c" stroke-width="0.8"/><circle cx="442.4" cy="90.4" r="1.5" fill="#fff" stroke="#8c8c8c" stroke-width="0.8"/><circle cx="447.3" cy="87.7" r="1.5" fill="#fff" stroke="#8c8c8c" stroke-width="0.8"/><circle cx="518.5" cy="57.8" r="1.5" fill="#fff" stroke="#8c8c8c" stroke-width="0.8"/><circle cx="530.8" cy="74" r="1.5" fill="#fff" stroke="#8c8c8c" stroke-width="0.8"/><circle cx="526.4" cy="77.2" r="1.5" fill="#fff" stroke="#8c8c8c" stroke-width="0.8"/><circle cx="522.9" cy="93.9" r="1.5" fill="#fff" stroke="#8c8c8c" stroke-width="0.8"/><circle cx="523.8" cy="107.9" r="1.5" fill="#fff" stroke="#8c8c8c" stroke-width="0.8"/><circle cx="451.7" cy="102.7" r="1.5" fill="#fff" stroke="#8c8c8c" stroke-width="0.8"/><circle cx="455.2" cy="115.8" r="1.5" fill="#fff" stroke="#8c8c8c" stroke-width="0.8"/><circle cx="486" cy="116.7" r="1.5" fill="#fff" stroke="#8c8c8c" stroke-width="0.8"/><circle cx="517.6" cy="107.9" r="1.5" fill="#fff" stroke="#8c8c8c" stroke-width="0.8"/><circle cx="463.1" cy="106.2" r="1.5" fill="#fff" stroke="#8c8c8c" stroke-width="0.8"/><circle cx="482.5" cy="56.1" r="1.5" fill="#fff" stroke="#8c8c8c" stroke-width="0.8"/><circle cx="463.1" cy="56.1" r="1.5" fill="#fff" stroke="#8c8c8c" stroke-width="0.8"/><circle cx="510.6" cy="72.8" r="1.5" fill="#fff" stroke="#8c8c8c" stroke-width="0.8"/><circle cx="478.9" cy="87.7" r="1.5" fill="#fff" stroke="#8c8c8c" stroke-width="0.8"/><circle cx="512.3" cy="93" r="1.5" fill="#fff" stroke="#8c8c8c" stroke-width="0.8"/><circle cx="502.7" cy="109.7" r="1.5" fill="#fff" stroke="#8c8c8c" stroke-width="0.8"/><circle cx="473.7" cy="116.7" r="1.5" fill="#fff" stroke="#8c8c8c" stroke-width="0.8"/>
<path d="M553.2,23.2L562.2,32.2M553.2,23.2L578.2,32.2M568,23.2L562.2,32.2M568,23.2L578.2,32.2M585,23.2L578.2,32.2M585,23.2L594.2,32.2M594.8,23.2L594.2,32.2M594.8,23.2L610.2,32.2M603.6,23.2L610.2,32.2M603.6,23.2L594.2,32.2M621.2,23.2L626.4,32.2M621.2,23.2L610.2,32.2M635.2,23.2L626.4,32.2M635.2,23.2L610.2,32.2M553.2,38.4L562.2,32.2M553.2,38.4L562.2,48.4M568.8,38.4L562.2,32.2M568.8,38.4L578.2,32.2M584.1,38.4L578.2,32.2M584.1,38.4L578.2,48.4M604.6,38.4L610.2,32.2M604.6,38.4L610.2,48.4M620.2,38.4L626.4,32.2M620.2,38.4L626.4,48.4M634.8,38.4L626.4,32.2M634.8,38.4L626.4,48.4M552.8,55L562.2,48.4M552.8,55L562.2,64.6M568,55L562.2,48.4M568,55L562.2,64.6M585.6,55L578.2,48.4M585.6,55L594.2,48.4M603.2,55L610.2,48.4M603.2,55L594.2,48.4M620.2,55L626.4,48.4M620.2,55L626.4,64.6M635.8,55L626.4,48.4M635.8,55L626.4,64.6M553.2,63.8L562.2,64.6M553.2,63.8L562.2,48.4M635.2,63.8L626.4,64.6M635.2,63.8L626.4,48.4M552.4,73.6L562.2,80.8M552.4,73.6L562.2,64.6M567.5,73.6L562.2,80.8M567.5,73.6L562.2,64.6M585,73.6L578.2,80.8M585,73.6L578.2,64.6M603.2,73.6L610.2,80.8M603.2,73.6L610.2,64.6M620.8,73.6L626.4,80.8M620.8,73.6L626.4,64.6M635.8,73.6L626.4,80.8M635.8,73.6L626.4,64.6M553.2,90.2L562.2,97M553.2,90.2L562.2,80.8M568,90.2L562.2,97M568,90.2L562.2,80.8M583.7,90.2L578.2,97M583.7,90.2L578.2,80.8M603.6,90.2L610.2,97M603.6,90.2L610.2,80.8M619.6,90.2L626.4,97M619.6,90.2L626.4,80.8M635.2,90.2L626.4,97M635.2,90.2L626.4,80.8M552.8,105.2L562.2,97M552.8,105.2L562.2,80.8M566.9,105.2L562.2,97M566.9,105.2L578.2,97M584.1,105.2L578.2,97M584.1,105.2L594.2,97M593.4,105.2L594.2,97M593.4,105.2L578.2,97M603.2,105.2L610.2,97M603.2,105.2L594.2,97M620.8,105.2L626.4,97M620.8,105.2L610.2,97M635.8,105.2L626.4,97M635.8,105.2L626.4,80.8" stroke="#5aa4cc" stroke-width="0.9" fill="none"/>
<path d="M562.2,32.2L578.2,32.2M562.2,32.2L562.2,48.4M562.2,32.2L578.2,48.4M578.2,32.2L562.2,48.4M562.2,48.4L578.2,48.4M562.2,48.4L562.2,64.6M562.2,48.4L578.2,64.6M578.2,48.4L562.2,64.6M562.2,64.6L578.2,64.6M562.2,64.6L562.2,80.8M562.2,64.6L578.2,80.8M578.2,64.6L562.2,80.8M562.2,80.8L578.2,80.8M562.2,80.8L562.2,97M562.2,80.8L578.2,97M578.2,80.8L562.2,97M562.2,97L578.2,97M578.2,32.2L594.2,32.2M578.2,32.2L578.2,48.4M578.2,32.2L594.2,48.4M594.2,32.2L578.2,48.4M578.2,48.4L594.2,48.4M578.2,48.4L578.2,64.6M578.2,48.4L594.2,64.6M594.2,48.4L578.2,64.6M578.2,64.6L594.2,64.6M578.2,64.6L578.2,80.8M578.2,64.6L594.2,80.8M594.2,64.6L578.2,80.8M578.2,80.8L594.2,80.8M578.2,80.8L578.2,97M578.2,80.8L594.2,97M594.2,80.8L578.2,97M578.2,97L594.2,97M594.2,32.2L610.2,32.2M594.2,32.2L594.2,48.4M594.2,32.2L610.2,48.4M610.2,32.2L594.2,48.4M594.2,48.4L610.2,48.4M594.2,48.4L594.2,64.6M594.2,48.4L610.2,64.6M610.2,48.4L594.2,64.6M594.2,64.6L610.2,64.6M594.2,64.6L594.2,80.8M594.2,64.6L610.2,80.8M610.2,64.6L594.2,80.8M594.2,80.8L610.2,80.8M594.2,80.8L594.2,97M594.2,80.8L610.2,97M610.2,80.8L594.2,97M594.2,97L610.2,97M610.2,32.2L626.4,32.2M610.2,32.2L610.2,48.4M610.2,32.2L626.4,48.4M626.4,32.2L610.2,48.4M610.2,48.4L626.4,48.4M610.2,48.4L610.2,64.6M610.2,48.4L626.4,64.6M626.4,48.4L610.2,64.6M610.2,64.6L626.4,64.6M610.2,64.6L610.2,80.8M610.2,64.6L626.4,80.8M626.4,64.6L610.2,80.8M610.2,80.8L626.4,80.8M610.2,80.8L610.2,97M610.2,80.8L626.4,97M626.4,80.8L610.2,97M610.2,97L626.4,97M626.4,32.2L626.4,48.4M626.4,48.4L626.4,64.6M626.4,64.6L626.4,80.8M626.4,80.8L626.4,97" stroke="#1a3f7c" stroke-width="1.6" fill="none"/>
<path d="M562.2,32.2L578.2,32.2M562.2,32.2L562.2,48.4M562.2,32.2L578.2,48.4M578.2,32.2L562.2,48.4M562.2,48.4L578.2,48.4M562.2,48.4L562.2,64.6M562.2,48.4L578.2,64.6M578.2,48.4L562.2,64.6M562.2,64.6L578.2,64.6M562.2,64.6L562.2,80.8M562.2,64.6L578.2,80.8M578.2,64.6L562.2,80.8M562.2,80.8L578.2,80.8M562.2,80.8L562.2,97M562.2,80.8L578.2,97M578.2,80.8L562.2,97M562.2,97L578.2,97M578.2,32.2L594.2,32.2M578.2,32.2L578.2,48.4M578.2,32.2L594.2,48.4M594.2,32.2L578.2,48.4M578.2,48.4L594.2,48.4M578.2,48.4L578.2,64.6M578.2,48.4L594.2,64.6M594.2,48.4L578.2,64.6M578.2,64.6L594.2,64.6M578.2,64.6L578.2,80.8M578.2,64.6L594.2,80.8M594.2,64.6L578.2,80.8M578.2,80.8L594.2,80.8M578.2,80.8L578.2,97M578.2,80.8L594.2,97M594.2,80.8L578.2,97M578.2,97L594.2,97M594.2,32.2L610.2,32.2M594.2,32.2L594.2,48.4M594.2,32.2L610.2,48.4M610.2,32.2L594.2,48.4M594.2,48.4L610.2,48.4M594.2,48.4L594.2,64.6M594.2,48.4L610.2,64.6M610.2,48.4L594.2,64.6M594.2,64.6L610.2,64.6M594.2,64.6L594.2,80.8M594.2,64.6L610.2,80.8M610.2,64.6L594.2,80.8M594.2,80.8L610.2,80.8M594.2,80.8L594.2,97M594.2,80.8L610.2,97M610.2,80.8L594.2,97M594.2,97L610.2,97M610.2,32.2L626.4,32.2M610.2,32.2L610.2,48.4M610.2,32.2L626.4,48.4M626.4,32.2L610.2,48.4M610.2,48.4L626.4,48.4M610.2,48.4L610.2,64.6M610.2,48.4L626.4,64.6M626.4,48.4L610.2,64.6M610.2,64.6L626.4,64.6M610.2,64.6L610.2,80.8M610.2,64.6L626.4,80.8M626.4,64.6L610.2,80.8M610.2,80.8L626.4,80.8M610.2,80.8L610.2,97M610.2,80.8L626.4,97M626.4,80.8L610.2,97M610.2,97L626.4,97M626.4,32.2L626.4,48.4M626.4,48.4L626.4,64.6M626.4,64.6L626.4,80.8M626.4,80.8L626.4,97" stroke="#4f94c0" stroke-width="0.4" fill="none"/>
<circle cx="562.2" cy="32.2" r="2.7" fill="#10295a"/><circle cx="562.2" cy="48.4" r="2.7" fill="#10295a"/><circle cx="562.2" cy="64.6" r="2.7" fill="#10295a"/><circle cx="562.2" cy="80.8" r="2.7" fill="#10295a"/><circle cx="562.2" cy="97" r="2.7" fill="#10295a"/><circle cx="578.2" cy="32.2" r="2.7" fill="#10295a"/><circle cx="578.2" cy="48.4" r="2.7" fill="#10295a"/><circle cx="578.2" cy="64.6" r="2.7" fill="#10295a"/><circle cx="578.2" cy="80.8" r="2.7" fill="#10295a"/><circle cx="578.2" cy="97" r="2.7" fill="#10295a"/><circle cx="594.2" cy="32.2" r="2.7" fill="#10295a"/><circle cx="594.2" cy="48.4" r="2.7" fill="#10295a"/><circle cx="594.2" cy="64.6" r="2.7" fill="#10295a"/><circle cx="594.2" cy="80.8" r="2.7" fill="#10295a"/><circle cx="594.2" cy="97" r="2.7" fill="#10295a"/><circle cx="610.2" cy="32.2" r="2.7" fill="#10295a"/><circle cx="610.2" cy="48.4" r="2.7" fill="#10295a"/><circle cx="610.2" cy="64.6" r="2.7" fill="#10295a"/><circle cx="610.2" cy="80.8" r="2.7" fill="#10295a"/><circle cx="610.2" cy="97" r="2.7" fill="#10295a"/><circle cx="626.4" cy="32.2" r="2.7" fill="#10295a"/><circle cx="626.4" cy="48.4" r="2.7" fill="#10295a"/><circle cx="626.4" cy="64.6" r="2.7" fill="#10295a"/><circle cx="626.4" cy="80.8" r="2.7" fill="#10295a"/><circle cx="626.4" cy="97" r="2.7" fill="#10295a"/>
<circle cx="553.2" cy="23.2" r="1.6" fill="#fff" stroke="#888" stroke-width="0.8"/><circle cx="568" cy="23.2" r="1.6" fill="#fff" stroke="#888" stroke-width="0.8"/><circle cx="585" cy="23.2" r="1.6" fill="#fff" stroke="#888" stroke-width="0.8"/><circle cx="594.8" cy="23.2" r="1.6" fill="#fff" stroke="#888" stroke-width="0.8"/><circle cx="603.6" cy="23.2" r="1.6" fill="#fff" stroke="#888" stroke-width="0.8"/><circle cx="621.2" cy="23.2" r="1.6" fill="#fff" stroke="#888" stroke-width="0.8"/><circle cx="635.2" cy="23.2" r="1.6" fill="#fff" stroke="#888" stroke-width="0.8"/><circle cx="553.2" cy="38.4" r="1.6" fill="#fff" stroke="#888" stroke-width="0.8"/><circle cx="568.8" cy="38.4" r="1.6" fill="#fff" stroke="#888" stroke-width="0.8"/><circle cx="584.1" cy="38.4" r="1.6" fill="#fff" stroke="#888" stroke-width="0.8"/><circle cx="604.6" cy="38.4" r="1.6" fill="#fff" stroke="#888" stroke-width="0.8"/><circle cx="620.2" cy="38.4" r="1.6" fill="#fff" stroke="#888" stroke-width="0.8"/><circle cx="634.8" cy="38.4" r="1.6" fill="#fff" stroke="#888" stroke-width="0.8"/><circle cx="552.8" cy="55" r="1.6" fill="#fff" stroke="#888" stroke-width="0.8"/><circle cx="568" cy="55" r="1.6" fill="#fff" stroke="#888" stroke-width="0.8"/><circle cx="585.6" cy="55" r="1.6" fill="#fff" stroke="#888" stroke-width="0.8"/><circle cx="603.2" cy="55" r="1.6" fill="#fff" stroke="#888" stroke-width="0.8"/><circle cx="620.2" cy="55" r="1.6" fill="#fff" stroke="#888" stroke-width="0.8"/><circle cx="635.8" cy="55" r="1.6" fill="#fff" stroke="#888" stroke-width="0.8"/><circle cx="553.2" cy="63.8" r="1.6" fill="#fff" stroke="#888" stroke-width="0.8"/><circle cx="635.2" cy="63.8" r="1.6" fill="#fff" stroke="#888" stroke-width="0.8"/><circle cx="552.4" cy="73.6" r="1.6" fill="#fff" stroke="#888" stroke-width="0.8"/><circle cx="567.5" cy="73.6" r="1.6" fill="#fff" stroke="#888" stroke-width="0.8"/><circle cx="585" cy="73.6" r="1.6" fill="#fff" stroke="#888" stroke-width="0.8"/><circle cx="603.2" cy="73.6" r="1.6" fill="#fff" stroke="#888" stroke-width="0.8"/><circle cx="620.8" cy="73.6" r="1.6" fill="#fff" stroke="#888" stroke-width="0.8"/><circle cx="635.8" cy="73.6" r="1.6" fill="#fff" stroke="#888" stroke-width="0.8"/><circle cx="553.2" cy="90.2" r="1.6" fill="#fff" stroke="#888" stroke-width="0.8"/><circle cx="568" cy="90.2" r="1.6" fill="#fff" stroke="#888" stroke-width="0.8"/><circle cx="583.7" cy="90.2" r="1.6" fill="#fff" stroke="#888" stroke-width="0.8"/><circle cx="603.6" cy="90.2" r="1.6" fill="#fff" stroke="#888" stroke-width="0.8"/><circle cx="619.6" cy="90.2" r="1.6" fill="#fff" stroke="#888" stroke-width="0.8"/><circle cx="635.2" cy="90.2" r="1.6" fill="#fff" stroke="#888" stroke-width="0.8"/><circle cx="552.8" cy="105.2" r="1.6" fill="#fff" stroke="#888" stroke-width="0.8"/><circle cx="566.9" cy="105.2" r="1.6" fill="#fff" stroke="#888" stroke-width="0.8"/><circle cx="584.1" cy="105.2" r="1.6" fill="#fff" stroke="#888" stroke-width="0.8"/><circle cx="593.4" cy="105.2" r="1.6" fill="#fff" stroke="#888" stroke-width="0.8"/><circle cx="603.2" cy="105.2" r="1.6" fill="#fff" stroke="#888" stroke-width="0.8"/><circle cx="620.8" cy="105.2" r="1.6" fill="#fff" stroke="#888" stroke-width="0.8"/><circle cx="635.8" cy="105.2" r="1.6" fill="#fff" stroke="#888" stroke-width="0.8"/>
<clipPath id="cb1"><rect x="332.4" y="120" width="98.8" height="70"/></clipPath>
<clipPath id="cb2"><rect x="438" y="120" width="97.2" height="70"/></clipPath>
<clipPath id="cb3"><rect x="543.8" y="120" width="101.2" height="70"/></clipPath>
<g clip-path="url(#cb1)">
<path d="M328.6,131.5L328.6,147.3L328.6,162.1L328.6,178.3M339.3,129.6L339.3,147.3L339.3,162.1L339.3,177.1M350,131.5L350,147.3L350,154.7M350,170L350,178.3M339.3,162.1L350,154.7L360.7,162.1L350,170L339.3,162.1M360.7,129.6L360.7,147.3L360.7,162.1L360.7,177.1M371.3,131.5L371.3,147.3L371.3,162.1L371.3,178.3M382,129.6L382,139.9M382,154L382,162.1L382,177.1M371.3,147.3L382,139.9L392.7,147.3L382,154L371.3,147.3M392.7,131.5L392.7,147.3L392.7,162.1L392.7,178.3M403.4,129.6L403.4,147.3L403.4,162.1L403.4,177.1M414,131.5L414,147.3L414,154.7M414,170L414,178.3M403.4,162.1L414,154.7L424.7,162.1L414,170L403.4,162.1M424.7,129.6L424.7,147.3L424.7,162.1L424.7,177.1M435.4,131.5L435.4,147.3L435.4,162.1L435.4,178.3M328.6,131.5L339.3,129.6L350,131.5L360.7,129.6L371.3,131.5L382,129.6L392.7,131.5L403.4,129.6L414,131.5L424.7,129.6L435.4,131.5M328.6,147.3L339.3,147.3L350,147.3L360.7,147.3L371.3,147.3M392.7,147.3L403.4,147.3L414,147.3L424.7,147.3L435.4,147.3M328.6,162.1L339.3,162.1M360.7,162.1L371.3,162.1L382,162.1L392.7,162.1L403.4,162.1M424.7,162.1L435.4,162.1M328.6,178.3L339.3,177.1L350,178.3L360.7,177.1L371.3,178.3L382,177.1L392.7,178.3L403.4,177.1L414,178.3L424.7,177.1L435.4,178.3" fill="none" stroke="#c41820" stroke-width="1.4" stroke-linejoin="round"/>
<path d="M328.6,131.5L328.6,147.3L328.6,162.1L328.6,178.3M339.3,129.6L339.3,147.3L339.3,162.1L339.3,177.1M350,131.5L350,147.3L350,154.7M350,170L350,178.3M339.3,162.1L350,154.7L360.7,162.1L350,170L339.3,162.1M360.7,129.6L360.7,147.3L360.7,162.1L360.7,177.1M371.3,131.5L371.3,147.3L371.3,162.1L371.3,178.3M382,129.6L382,139.9M382,154L382,162.1L382,177.1M371.3,147.3L382,139.9L392.7,147.3L382,154L371.3,147.3M392.7,131.5L392.7,147.3L392.7,162.1L392.7,178.3M403.4,129.6L403.4,147.3L403.4,162.1L403.4,177.1M414,131.5L414,147.3L414,154.7M414,170L414,178.3M403.4,162.1L414,154.7L424.7,162.1L414,170L403.4,162.1M424.7,129.6L424.7,147.3L424.7,162.1L424.7,177.1M435.4,131.5L435.4,147.3L435.4,162.1L435.4,178.3M328.6,131.5L339.3,129.6L350,131.5L360.7,129.6L371.3,131.5L382,129.6L392.7,131.5L403.4,129.6L414,131.5L424.7,129.6L435.4,131.5M328.6,147.3L339.3,147.3L350,147.3L360.7,147.3L371.3,147.3M392.7,147.3L403.4,147.3L414,147.3L424.7,147.3L435.4,147.3M328.6,162.1L339.3,162.1M360.7,162.1L371.3,162.1L382,162.1L392.7,162.1L403.4,162.1M424.7,162.1L435.4,162.1M328.6,178.3L339.3,177.1L350,178.3L360.7,177.1L371.3,178.3L382,177.1L392.7,178.3L403.4,177.1L414,178.3L424.7,177.1L435.4,178.3" fill="none" stroke="#f29aa0" stroke-width="0.5" stroke-linejoin="round"/>
<circle cx="328.6" cy="131.5" r="2" fill="#dcdcdc" stroke="#444" stroke-width="1.2"/><circle cx="328.6" cy="178.3" r="2.3" fill="#a80e16" stroke="#6a0810" stroke-width="0.6"/><circle cx="328.6" cy="147.3" r="2.3" fill="#a80e16" stroke="#6a0810" stroke-width="0.6"/><circle cx="328.6" cy="162.1" r="2" fill="#dcdcdc" stroke="#444" stroke-width="1.2"/><circle cx="339.3" cy="129.6" r="2.3" fill="#a80e16" stroke="#6a0810" stroke-width="0.6"/><circle cx="339.3" cy="177.1" r="2" fill="#dcdcdc" stroke="#444" stroke-width="1.2"/><circle cx="339.3" cy="147.3" r="2" fill="#dcdcdc" stroke="#444" stroke-width="1.2"/><circle cx="339.3" cy="162.1" r="2.3" fill="#a80e16" stroke="#6a0810" stroke-width="0.6"/><circle cx="350" cy="131.5" r="2" fill="#dcdcdc" stroke="#444" stroke-width="1.2"/><circle cx="350" cy="178.3" r="2.3" fill="#a80e16" stroke="#6a0810" stroke-width="0.6"/><circle cx="350" cy="147.3" r="2.3" fill="#a80e16" stroke="#6a0810" stroke-width="0.6"/><circle cx="350" cy="154.7" r="2" fill="#dcdcdc" stroke="#444" stroke-width="1.2"/><circle cx="350" cy="170" r="2" fill="#dcdcdc" stroke="#444" stroke-width="1.2"/><circle cx="360.7" cy="129.6" r="2.3" fill="#a80e16" stroke="#6a0810" stroke-width="0.6"/><circle cx="360.7" cy="177.1" r="2" fill="#dcdcdc" stroke="#444" stroke-width="1.2"/><circle cx="360.7" cy="147.3" r="2" fill="#dcdcdc" stroke="#444" stroke-width="1.2"/><circle cx="360.7" cy="162.1" r="2.3" fill="#a80e16" stroke="#6a0810" stroke-width="0.6"/><circle cx="371.3" cy="131.5" r="2" fill="#dcdcdc" stroke="#444" stroke-width="1.2"/><circle cx="371.3" cy="178.3" r="2.3" fill="#a80e16" stroke="#6a0810" stroke-width="0.6"/><circle cx="371.3" cy="147.3" r="2.3" fill="#a80e16" stroke="#6a0810" stroke-width="0.6"/><circle cx="371.3" cy="162.1" r="2" fill="#dcdcdc" stroke="#444" stroke-width="1.2"/><circle cx="382" cy="129.6" r="2.3" fill="#a80e16" stroke="#6a0810" stroke-width="0.6"/><circle cx="382" cy="177.1" r="2" fill="#dcdcdc" stroke="#444" stroke-width="1.2"/><circle cx="382" cy="162.1" r="2.3" fill="#a80e16" stroke="#6a0810" stroke-width="0.6"/><circle cx="382" cy="139.9" r="2" fill="#dcdcdc" stroke="#444" stroke-width="1.2"/><circle cx="382" cy="154" r="2" fill="#dcdcdc" stroke="#444" stroke-width="1.2"/><circle cx="392.7" cy="131.5" r="2" fill="#dcdcdc" stroke="#444" stroke-width="1.2"/><circle cx="392.7" cy="178.3" r="2.3" fill="#a80e16" stroke="#6a0810" stroke-width="0.6"/><circle cx="392.7" cy="147.3" r="2.3" fill="#a80e16" stroke="#6a0810" stroke-width="0.6"/><circle cx="392.7" cy="162.1" r="2" fill="#dcdcdc" stroke="#444" stroke-width="1.2"/><circle cx="403.4" cy="129.6" r="2.3" fill="#a80e16" stroke="#6a0810" stroke-width="0.6"/><circle cx="403.4" cy="177.1" r="2" fill="#dcdcdc" stroke="#444" stroke-width="1.2"/><circle cx="403.4" cy="147.3" r="2" fill="#dcdcdc" stroke="#444" stroke-width="1.2"/><circle cx="403.4" cy="162.1" r="2.3" fill="#a80e16" stroke="#6a0810" stroke-width="0.6"/><circle cx="414" cy="131.5" r="2" fill="#dcdcdc" stroke="#444" stroke-width="1.2"/><circle cx="414" cy="178.3" r="2.3" fill="#a80e16" stroke="#6a0810" stroke-width="0.6"/><circle cx="414" cy="147.3" r="2.3" fill="#a80e16" stroke="#6a0810" stroke-width="0.6"/><circle cx="414" cy="154.7" r="2" fill="#dcdcdc" stroke="#444" stroke-width="1.2"/><circle cx="414" cy="170" r="2" fill="#dcdcdc" stroke="#444" stroke-width="1.2"/><circle cx="424.7" cy="129.6" r="2.3" fill="#a80e16" stroke="#6a0810" stroke-width="0.6"/><circle cx="424.7" cy="177.1" r="2" fill="#dcdcdc" stroke="#444" stroke-width="1.2"/><circle cx="424.7" cy="147.3" r="2" fill="#dcdcdc" stroke="#444" stroke-width="1.2"/><circle cx="424.7" cy="162.1" r="2.3" fill="#a80e16" stroke="#6a0810" stroke-width="0.6"/><circle cx="435.4" cy="131.5" r="2" fill="#dcdcdc" stroke="#444" stroke-width="1.2"/><circle cx="435.4" cy="178.3" r="2.3" fill="#a80e16" stroke="#6a0810" stroke-width="0.6"/><circle cx="435.4" cy="147.3" r="2.3" fill="#a80e16" stroke="#6a0810" stroke-width="0.6"/><circle cx="435.4" cy="162.1" r="2" fill="#dcdcdc" stroke="#444" stroke-width="1.2"/>
</g><g clip-path="url(#cb2)">
<path d="M434,132.6L434,147.6L434,162.6L434,178.3M444.5,130.7L444.5,147.6L444.5,162.6L444.5,177.1M455,132.6L455,147.6L455,155.1M455,170.2L455,178.3M444.5,162.6L455,155.1L465.6,162.6L455,170.2L444.5,162.6M465.6,130.7L465.6,147.6L465.6,162.6L465.6,177.1M476.1,132.6L476.1,147.6L476.1,162.6L476.1,178.3M486.7,130.7L486.7,140.6M486.7,154.3L486.7,162.6L486.7,177.1M476.1,147.6L486.7,140.6L497.2,147.6L486.7,154.3L476.1,147.6M497.2,132.6L497.2,147.6L497.2,162.6L497.2,178.3M507.7,130.7L507.7,147.6L507.7,162.6L507.7,177.1M518.3,132.6L518.3,147.6L518.3,155.1M518.3,170.2L518.3,178.3M507.7,162.6L518.3,155.1L528.8,162.6L518.3,170.2L507.7,162.6M528.8,130.7L528.8,147.6L528.8,162.6L528.8,177.1M539.4,132.6L539.4,147.6L539.4,162.6L539.4,178.3M434,132.6L444.5,130.7L455,132.6L465.6,130.7L476.1,132.6L486.7,130.7L497.2,132.6L507.7,130.7L518.3,132.6L528.8,130.7L539.4,132.6M434,147.6L444.5,147.6L455,147.6L465.6,147.6L476.1,147.6M497.2,147.6L507.7,147.6L518.3,147.6L528.8,147.6L539.4,147.6M434,162.6L444.5,162.6M465.6,162.6L476.1,162.6L486.7,162.6L497.2,162.6L507.7,162.6M528.8,162.6L539.4,162.6M434,178.3L444.5,177.1L455,178.3L465.6,177.1L476.1,178.3L486.7,177.1L497.2,178.3L507.7,177.1L518.3,178.3L528.8,177.1L539.4,178.3" fill="none" stroke="#c41820" stroke-width="1.4" stroke-linejoin="round"/>
<path d="M434,132.6L434,147.6L434,162.6L434,178.3M444.5,130.7L444.5,147.6L444.5,162.6L444.5,177.1M455,132.6L455,147.6L455,155.1M455,170.2L455,178.3M444.5,162.6L455,155.1L465.6,162.6L455,170.2L444.5,162.6M465.6,130.7L465.6,147.6L465.6,162.6L465.6,177.1M476.1,132.6L476.1,147.6L476.1,162.6L476.1,178.3M486.7,130.7L486.7,140.6M486.7,154.3L486.7,162.6L486.7,177.1M476.1,147.6L486.7,140.6L497.2,147.6L486.7,154.3L476.1,147.6M497.2,132.6L497.2,147.6L497.2,162.6L497.2,178.3M507.7,130.7L507.7,147.6L507.7,162.6L507.7,177.1M518.3,132.6L518.3,147.6L518.3,155.1M518.3,170.2L518.3,178.3M507.7,162.6L518.3,155.1L528.8,162.6L518.3,170.2L507.7,162.6M528.8,130.7L528.8,147.6L528.8,162.6L528.8,177.1M539.4,132.6L539.4,147.6L539.4,162.6L539.4,178.3M434,132.6L444.5,130.7L455,132.6L465.6,130.7L476.1,132.6L486.7,130.7L497.2,132.6L507.7,130.7L518.3,132.6L528.8,130.7L539.4,132.6M434,147.6L444.5,147.6L455,147.6L465.6,147.6L476.1,147.6M497.2,147.6L507.7,147.6L518.3,147.6L528.8,147.6L539.4,147.6M434,162.6L444.5,162.6M465.6,162.6L476.1,162.6L486.7,162.6L497.2,162.6L507.7,162.6M528.8,162.6L539.4,162.6M434,178.3L444.5,177.1L455,178.3L465.6,177.1L476.1,178.3L486.7,177.1L497.2,178.3L507.7,177.1L518.3,178.3L528.8,177.1L539.4,178.3" fill="none" stroke="#f29aa0" stroke-width="0.5" stroke-linejoin="round"/>
<circle cx="434" cy="132.6" r="2" fill="#dcdcdc" stroke="#444" stroke-width="1.2"/><circle cx="434" cy="178.3" r="2.3" fill="#a80e16" stroke="#6a0810" stroke-width="0.6"/><circle cx="434" cy="147.6" r="2.3" fill="#a80e16" stroke="#6a0810" stroke-width="0.6"/><circle cx="434" cy="162.6" r="2" fill="#dcdcdc" stroke="#444" stroke-width="1.2"/><circle cx="444.5" cy="130.7" r="2.3" fill="#a80e16" stroke="#6a0810" stroke-width="0.6"/><circle cx="444.5" cy="177.1" r="2" fill="#dcdcdc" stroke="#444" stroke-width="1.2"/><circle cx="444.5" cy="147.6" r="2" fill="#dcdcdc" stroke="#444" stroke-width="1.2"/><circle cx="444.5" cy="162.6" r="2.3" fill="#a80e16" stroke="#6a0810" stroke-width="0.6"/><circle cx="455" cy="132.6" r="2" fill="#dcdcdc" stroke="#444" stroke-width="1.2"/><circle cx="455" cy="178.3" r="2.3" fill="#a80e16" stroke="#6a0810" stroke-width="0.6"/><circle cx="455" cy="147.6" r="2.3" fill="#a80e16" stroke="#6a0810" stroke-width="0.6"/><circle cx="455" cy="155.1" r="2" fill="#dcdcdc" stroke="#444" stroke-width="1.2"/><circle cx="455" cy="170.2" r="2" fill="#dcdcdc" stroke="#444" stroke-width="1.2"/><circle cx="465.6" cy="130.7" r="2.3" fill="#a80e16" stroke="#6a0810" stroke-width="0.6"/><circle cx="465.6" cy="177.1" r="2" fill="#dcdcdc" stroke="#444" stroke-width="1.2"/><circle cx="465.6" cy="147.6" r="2" fill="#dcdcdc" stroke="#444" stroke-width="1.2"/><circle cx="465.6" cy="162.6" r="2.3" fill="#a80e16" stroke="#6a0810" stroke-width="0.6"/><circle cx="476.1" cy="132.6" r="2" fill="#dcdcdc" stroke="#444" stroke-width="1.2"/><circle cx="476.1" cy="178.3" r="2.3" fill="#a80e16" stroke="#6a0810" stroke-width="0.6"/><circle cx="476.1" cy="147.6" r="2.3" fill="#a80e16" stroke="#6a0810" stroke-width="0.6"/><circle cx="476.1" cy="162.6" r="2" fill="#dcdcdc" stroke="#444" stroke-width="1.2"/><circle cx="486.7" cy="130.7" r="2.3" fill="#a80e16" stroke="#6a0810" stroke-width="0.6"/><circle cx="486.7" cy="177.1" r="2" fill="#dcdcdc" stroke="#444" stroke-width="1.2"/><circle cx="486.7" cy="162.6" r="2.3" fill="#a80e16" stroke="#6a0810" stroke-width="0.6"/><circle cx="486.7" cy="140.6" r="2" fill="#dcdcdc" stroke="#444" stroke-width="1.2"/><circle cx="486.7" cy="154.3" r="2" fill="#dcdcdc" stroke="#444" stroke-width="1.2"/><circle cx="497.2" cy="132.6" r="2" fill="#dcdcdc" stroke="#444" stroke-width="1.2"/><circle cx="497.2" cy="178.3" r="2.3" fill="#a80e16" stroke="#6a0810" stroke-width="0.6"/><circle cx="497.2" cy="147.6" r="2.3" fill="#a80e16" stroke="#6a0810" stroke-width="0.6"/><circle cx="497.2" cy="162.6" r="2" fill="#dcdcdc" stroke="#444" stroke-width="1.2"/><circle cx="507.7" cy="130.7" r="2.3" fill="#a80e16" stroke="#6a0810" stroke-width="0.6"/><circle cx="507.7" cy="177.1" r="2" fill="#dcdcdc" stroke="#444" stroke-width="1.2"/><circle cx="507.7" cy="147.6" r="2" fill="#dcdcdc" stroke="#444" stroke-width="1.2"/><circle cx="507.7" cy="162.6" r="2.3" fill="#a80e16" stroke="#6a0810" stroke-width="0.6"/><circle cx="518.3" cy="132.6" r="2" fill="#dcdcdc" stroke="#444" stroke-width="1.2"/><circle cx="518.3" cy="178.3" r="2.3" fill="#a80e16" stroke="#6a0810" stroke-width="0.6"/><circle cx="518.3" cy="147.6" r="2.3" fill="#a80e16" stroke="#6a0810" stroke-width="0.6"/><circle cx="518.3" cy="155.1" r="2" fill="#dcdcdc" stroke="#444" stroke-width="1.2"/><circle cx="518.3" cy="170.2" r="2" fill="#dcdcdc" stroke="#444" stroke-width="1.2"/><circle cx="528.8" cy="130.7" r="2.3" fill="#a80e16" stroke="#6a0810" stroke-width="0.6"/><circle cx="528.8" cy="177.1" r="2" fill="#dcdcdc" stroke="#444" stroke-width="1.2"/><circle cx="528.8" cy="147.6" r="2" fill="#dcdcdc" stroke="#444" stroke-width="1.2"/><circle cx="528.8" cy="162.6" r="2.3" fill="#a80e16" stroke="#6a0810" stroke-width="0.6"/><circle cx="539.4" cy="132.6" r="2" fill="#dcdcdc" stroke="#444" stroke-width="1.2"/><circle cx="539.4" cy="178.3" r="2.3" fill="#a80e16" stroke="#6a0810" stroke-width="0.6"/><circle cx="539.4" cy="147.6" r="2.3" fill="#a80e16" stroke="#6a0810" stroke-width="0.6"/><circle cx="539.4" cy="162.6" r="2" fill="#dcdcdc" stroke="#444" stroke-width="1.2"/>
</g><g clip-path="url(#cb3)">
<path d="M538.2,130.3L538.2,148.1L538.2,163.4L538.2,180M549.5,132.2L549.5,148.1L549.5,155.8M549.5,172.2L549.5,181.2M538.2,163.4L549.5,155.8L560.8,163.4L549.5,172.2L538.2,163.4M560.8,130.3L560.8,148.1L560.8,163.4L560.8,180M572.2,132.2L572.2,148.1L572.2,163.4L572.2,181.2M583.5,130.3L583.5,140.7M583.5,155L583.5,163.4L583.5,180M572.2,148.1L583.5,140.7L594.9,148.1L583.5,155L572.2,148.1M594.9,132.2L594.9,148.1L594.9,163.4L594.9,181.2M606.2,130.3L606.2,148.1L606.2,163.4L606.2,180M617.5,132.2L617.5,148.1L617.5,155.8M617.5,172.2L617.5,181.2M606.2,163.4L617.5,155.8L628.9,163.4L617.5,172.2L606.2,163.4M628.9,130.3L628.9,148.1L628.9,163.4L628.9,180M640.2,132.2L640.2,148.1L640.2,163.4L640.2,181.2M651.6,130.3L651.6,140.7M651.6,155L651.6,163.4L651.6,180M640.2,148.1L651.6,140.7L662.9,148.1L651.6,155L640.2,148.1M538.2,130.3L549.5,132.2L560.8,130.3L572.2,132.2L583.5,130.3L594.9,132.2L606.2,130.3L617.5,132.2L628.9,130.3L640.2,132.2L651.6,130.3M538.2,148.1L549.5,148.1L560.8,148.1L572.2,148.1M594.9,148.1L606.2,148.1L617.5,148.1L628.9,148.1L640.2,148.1M560.8,163.4L572.2,163.4L583.5,163.4L594.9,163.4L606.2,163.4M628.9,163.4L640.2,163.4L651.6,163.4M538.2,180L549.5,181.2L560.8,180L572.2,181.2L583.5,180L594.9,181.2L606.2,180L617.5,181.2L628.9,180L640.2,181.2L651.6,180" fill="none" stroke="#c41820" stroke-width="1.4" stroke-linejoin="round"/>
<path d="M538.2,130.3L538.2,148.1L538.2,163.4L538.2,180M549.5,132.2L549.5,148.1L549.5,155.8M549.5,172.2L549.5,181.2M538.2,163.4L549.5,155.8L560.8,163.4L549.5,172.2L538.2,163.4M560.8,130.3L560.8,148.1L560.8,163.4L560.8,180M572.2,132.2L572.2,148.1L572.2,163.4L572.2,181.2M583.5,130.3L583.5,140.7M583.5,155L583.5,163.4L583.5,180M572.2,148.1L583.5,140.7L594.9,148.1L583.5,155L572.2,148.1M594.9,132.2L594.9,148.1L594.9,163.4L594.9,181.2M606.2,130.3L606.2,148.1L606.2,163.4L606.2,180M617.5,132.2L617.5,148.1L617.5,155.8M617.5,172.2L617.5,181.2M606.2,163.4L617.5,155.8L628.9,163.4L617.5,172.2L606.2,163.4M628.9,130.3L628.9,148.1L628.9,163.4L628.9,180M640.2,132.2L640.2,148.1L640.2,163.4L640.2,181.2M651.6,130.3L651.6,140.7M651.6,155L651.6,163.4L651.6,180M640.2,148.1L651.6,140.7L662.9,148.1L651.6,155L640.2,148.1M538.2,130.3L549.5,132.2L560.8,130.3L572.2,132.2L583.5,130.3L594.9,132.2L606.2,130.3L617.5,132.2L628.9,130.3L640.2,132.2L651.6,130.3M538.2,148.1L549.5,148.1L560.8,148.1L572.2,148.1M594.9,148.1L606.2,148.1L617.5,148.1L628.9,148.1L640.2,148.1M560.8,163.4L572.2,163.4L583.5,163.4L594.9,163.4L606.2,163.4M628.9,163.4L640.2,163.4L651.6,163.4M538.2,180L549.5,181.2L560.8,180L572.2,181.2L583.5,180L594.9,181.2L606.2,180L617.5,181.2L628.9,180L640.2,181.2L651.6,180" fill="none" stroke="#f29aa0" stroke-width="0.5" stroke-linejoin="round"/>
<circle cx="538.2" cy="130.3" r="2.3" fill="#a80e16" stroke="#6a0810" stroke-width="0.6"/><circle cx="538.2" cy="180" r="2" fill="#dcdcdc" stroke="#444" stroke-width="1.2"/><circle cx="538.2" cy="148.1" r="2" fill="#dcdcdc" stroke="#444" stroke-width="1.2"/><circle cx="538.2" cy="163.4" r="2.3" fill="#a80e16" stroke="#6a0810" stroke-width="0.6"/><circle cx="549.5" cy="132.2" r="2" fill="#dcdcdc" stroke="#444" stroke-width="1.2"/><circle cx="549.5" cy="181.2" r="2.3" fill="#a80e16" stroke="#6a0810" stroke-width="0.6"/><circle cx="549.5" cy="148.1" r="2.3" fill="#a80e16" stroke="#6a0810" stroke-width="0.6"/><circle cx="549.5" cy="155.8" r="2" fill="#dcdcdc" stroke="#444" stroke-width="1.2"/><circle cx="549.5" cy="172.2" r="2" fill="#dcdcdc" stroke="#444" stroke-width="1.2"/><circle cx="560.8" cy="130.3" r="2.3" fill="#a80e16" stroke="#6a0810" stroke-width="0.6"/><circle cx="560.8" cy="180" r="2" fill="#dcdcdc" stroke="#444" stroke-width="1.2"/><circle cx="560.8" cy="148.1" r="2" fill="#dcdcdc" stroke="#444" stroke-width="1.2"/><circle cx="560.8" cy="163.4" r="2.3" fill="#a80e16" stroke="#6a0810" stroke-width="0.6"/><circle cx="572.2" cy="132.2" r="2" fill="#dcdcdc" stroke="#444" stroke-width="1.2"/><circle cx="572.2" cy="181.2" r="2.3" fill="#a80e16" stroke="#6a0810" stroke-width="0.6"/><circle cx="572.2" cy="148.1" r="2.3" fill="#a80e16" stroke="#6a0810" stroke-width="0.6"/><circle cx="572.2" cy="163.4" r="2" fill="#dcdcdc" stroke="#444" stroke-width="1.2"/><circle cx="583.5" cy="130.3" r="2.3" fill="#a80e16" stroke="#6a0810" stroke-width="0.6"/><circle cx="583.5" cy="180" r="2" fill="#dcdcdc" stroke="#444" stroke-width="1.2"/><circle cx="583.5" cy="163.4" r="2.3" fill="#a80e16" stroke="#6a0810" stroke-width="0.6"/><circle cx="583.5" cy="140.7" r="2" fill="#dcdcdc" stroke="#444" stroke-width="1.2"/><circle cx="583.5" cy="155" r="2" fill="#dcdcdc" stroke="#444" stroke-width="1.2"/><circle cx="594.9" cy="132.2" r="2" fill="#dcdcdc" stroke="#444" stroke-width="1.2"/><circle cx="594.9" cy="181.2" r="2.3" fill="#a80e16" stroke="#6a0810" stroke-width="0.6"/><circle cx="594.9" cy="148.1" r="2.3" fill="#a80e16" stroke="#6a0810" stroke-width="0.6"/><circle cx="594.9" cy="163.4" r="2" fill="#dcdcdc" stroke="#444" stroke-width="1.2"/><circle cx="606.2" cy="130.3" r="2.3" fill="#a80e16" stroke="#6a0810" stroke-width="0.6"/><circle cx="606.2" cy="180" r="2" fill="#dcdcdc" stroke="#444" stroke-width="1.2"/><circle cx="606.2" cy="148.1" r="2" fill="#dcdcdc" stroke="#444" stroke-width="1.2"/><circle cx="606.2" cy="163.4" r="2.3" fill="#a80e16" stroke="#6a0810" stroke-width="0.6"/><circle cx="617.5" cy="132.2" r="2" fill="#dcdcdc" stroke="#444" stroke-width="1.2"/><circle cx="617.5" cy="181.2" r="2.3" fill="#a80e16" stroke="#6a0810" stroke-width="0.6"/><circle cx="617.5" cy="148.1" r="2.3" fill="#a80e16" stroke="#6a0810" stroke-width="0.6"/><circle cx="617.5" cy="155.8" r="2" fill="#dcdcdc" stroke="#444" stroke-width="1.2"/><circle cx="617.5" cy="172.2" r="2" fill="#dcdcdc" stroke="#444" stroke-width="1.2"/><circle cx="628.9" cy="130.3" r="2.3" fill="#a80e16" stroke="#6a0810" stroke-width="0.6"/><circle cx="628.9" cy="180" r="2" fill="#dcdcdc" stroke="#444" stroke-width="1.2"/><circle cx="628.9" cy="148.1" r="2" fill="#dcdcdc" stroke="#444" stroke-width="1.2"/><circle cx="628.9" cy="163.4" r="2.3" fill="#a80e16" stroke="#6a0810" stroke-width="0.6"/><circle cx="640.2" cy="132.2" r="2" fill="#dcdcdc" stroke="#444" stroke-width="1.2"/><circle cx="640.2" cy="181.2" r="2.3" fill="#a80e16" stroke="#6a0810" stroke-width="0.6"/><circle cx="640.2" cy="148.1" r="2.3" fill="#a80e16" stroke="#6a0810" stroke-width="0.6"/><circle cx="640.2" cy="163.4" r="2" fill="#dcdcdc" stroke="#444" stroke-width="1.2"/><circle cx="651.6" cy="130.3" r="2.3" fill="#a80e16" stroke="#6a0810" stroke-width="0.6"/><circle cx="651.6" cy="180" r="2" fill="#dcdcdc" stroke="#444" stroke-width="1.2"/><circle cx="651.6" cy="163.4" r="2.3" fill="#a80e16" stroke="#6a0810" stroke-width="0.6"/><circle cx="651.6" cy="140.7" r="2" fill="#dcdcdc" stroke="#444" stroke-width="1.2"/><circle cx="651.6" cy="155" r="2" fill="#dcdcdc" stroke="#444" stroke-width="1.2"/>
</g>
<text x="339.4" y="203.6" font-size="14" font-weight="bold" fill="#111" textLength="64.6" lengthAdjust="spacingAndGlyphs">Pt<tspan font-size="10" dy="2">55</tspan><tspan dy="-2">/Al</tspan><tspan font-size="10" dy="2">2</tspan><tspan dy="-2">O</tspan><tspan font-size="10" dy="2">3</tspan></text>
<text x="444.4" y="203.6" font-size="14" font-weight="bold" fill="#5ce62a" textLength="84.4" lengthAdjust="spacingAndGlyphs">Pt<tspan font-size="10" dy="2">55</tspan><tspan dy="-2">H</tspan><tspan font-size="10" dy="2">44/</tspan><tspan dy="-2">Al</tspan><tspan font-size="10" dy="2">2</tspan><tspan dy="-2">O</tspan><tspan font-size="10" dy="2">3</tspan></text>
<text x="553.5" y="203.6" font-size="14" font-weight="bold" fill="#2b6e1a" textLength="85.1" lengthAdjust="spacingAndGlyphs">Pt<tspan font-size="10" dy="2">55</tspan><tspan dy="-2">H</tspan><tspan font-size="10" dy="2">91</tspan><tspan dy="-2">/Al</tspan><tspan font-size="10" dy="2">2</tspan><tspan dy="-2">O</tspan><tspan font-size="10" dy="2">3</tspan></text>
<text x="333.7" y="30.5" font-size="20" fill="#000" font-weight="bold" text-anchor="start" textLength="19.5" lengthAdjust="spacingAndGlyphs">b)</text>
<path d="M321,3.7 H660.6 V219.8 H321 Z" fill="none" stroke="#000" stroke-width="2"/>
<rect x="68.7" y="252.8" width="51.1" height="207" fill="#f0f0f0"/>
<line x1="46.7" y1="252" x2="46.7" y2="466" stroke="#dadada" stroke-width="1"/>
<line x1="68.3" y1="252" x2="68.3" y2="466" stroke="#dadada" stroke-width="1"/>
<line x1="90" y1="252" x2="90" y2="466" stroke="#dadada" stroke-width="1"/>
<line x1="111.6" y1="252" x2="111.6" y2="466" stroke="#dadada" stroke-width="1"/>
<line x1="133.3" y1="252" x2="133.3" y2="466" stroke="#dadada" stroke-width="1"/>
<line x1="154.9" y1="252" x2="154.9" y2="466" stroke="#dadada" stroke-width="1"/>
<line x1="176.6" y1="252" x2="176.6" y2="466" stroke="#dadada" stroke-width="1"/>
<line x1="198.2" y1="252" x2="198.2" y2="466" stroke="#dadada" stroke-width="1"/>
<line x1="219.9" y1="252" x2="219.9" y2="466" stroke="#dadada" stroke-width="1"/>
<line x1="241.6" y1="252" x2="241.6" y2="466" stroke="#dadada" stroke-width="1"/>
<line x1="263.2" y1="252" x2="263.2" y2="466" stroke="#dadada" stroke-width="1"/>
<line x1="284.8" y1="252" x2="284.8" y2="466" stroke="#dadada" stroke-width="1"/>
<line x1="25" y1="255" x2="306" y2="255" stroke="#dadada" stroke-width="1"/>
<line x1="25" y1="276.5" x2="306" y2="276.5" stroke="#dadada" stroke-width="1"/>
<line x1="25" y1="298" x2="306" y2="298" stroke="#dadada" stroke-width="1"/>
<line x1="25" y1="319.5" x2="306" y2="319.5" stroke="#dadada" stroke-width="1"/>
<line x1="25" y1="341" x2="306" y2="341" stroke="#dadada" stroke-width="1"/>
<line x1="25" y1="362.6" x2="306" y2="362.6" stroke="#dadada" stroke-width="1"/>
<line x1="25" y1="384.1" x2="306" y2="384.1" stroke="#dadada" stroke-width="1"/>
<line x1="25" y1="405.6" x2="306" y2="405.6" stroke="#dadada" stroke-width="1"/>
<line x1="25" y1="427.1" x2="306" y2="427.1" stroke="#dadada" stroke-width="1"/>
<line x1="119.8" y1="253" x2="119.8" y2="460" stroke="#c8c8c8" stroke-width="1" stroke-dasharray="1.5,1.5"/>
<rect x="26" y="253" width="22" height="30" fill="#fff"/>
<rect x="217.7" y="253" width="87.6" height="37" fill="#fff"/>
<line x1="26" y1="448.4" x2="305" y2="448.4" stroke="#444" stroke-width="1" stroke-dasharray="1.5,1.5"/>
<path d="M26,380.9 C26.7,379.6 29.1,378 30.3,373 C31.5,368 32.4,358.3 33.4,351 C34.4,343.7 35.7,335.3 36.5,329.4 C37.3,323.5 37.8,318.6 38.4,315.5 C39,312.4 39.5,311.2 40.1,311 C40.7,310.8 41.2,309.6 42,314.5 C42.8,319.4 44.2,332.4 45.1,340.3 C46,348.2 46.6,355.2 47.4,362.2 C48.2,369.2 49,377.2 49.8,382.5 C50.6,387.8 51.3,391.5 52.1,394 C52.9,396.5 53.6,397.1 54.5,397.5 C55.4,397.9 56.5,395.9 57.5,396.4 C58.5,396.9 59.6,396.5 60.7,400.5 C61.8,404.5 63.1,414.6 64.3,420.6 C65.5,426.6 66.7,436 67.8,436.5 C68.8,437 69.9,429.3 70.6,423.8 C71.3,418.2 71.6,410.7 72.1,403.4 C72.6,396.1 73,388.9 73.4,380 C73.8,371.1 73.9,360 74.3,350 C74.7,340 75.1,330.8 75.6,320 C76.1,309.2 76.6,294.8 77.1,285 C77.6,275.2 78.1,266.1 78.6,261 C79.1,255.9 79.5,254.6 79.9,254.6 C80.3,254.6 80.7,255.4 81.2,261 C81.7,266.6 82.3,278.2 82.8,288 C83.3,297.8 83.6,309.7 84.2,320 C84.8,330.3 85.7,342 86.3,350 C86.9,358 87.3,361.4 88.1,368 C88.9,374.6 89.9,388.9 90.9,389.5 C91.9,390.1 93.2,379.3 94.3,371.6 C95.4,363.9 96.4,350.7 97.4,343.4 C98.4,336.1 99.3,331.8 100.5,328 C101.7,324.2 103.4,320 104.7,320.5 C106,321 107.7,326.1 108.6,331.2 C109.5,336.4 109.5,344 110.2,351.6 C110.9,359.2 111.7,368.2 112.5,376.6 C113.3,385 114,395.6 115,402 C116,408.4 117.1,413.8 118.2,414.8 C119.3,415.8 120.4,411.3 121.5,408 C122.6,404.7 123.7,398.4 125,395 C126.3,391.6 128,389.1 129.4,387.5 C130.8,385.9 132.2,386.9 133.5,385.5 C134.8,384.1 135.9,382.2 137.5,378.9 C139.1,375.6 141.4,370.9 143,365.6 C144.6,360.3 145.7,351.7 146.9,346.9 C148.1,342.1 149.1,337.3 150.3,337 C151.5,336.7 152.7,342.4 153.9,345.3 C155.1,348.2 156.2,356.3 157.5,354.7 C158.8,353.1 160.6,341.9 161.7,335.9 C162.8,329.9 163.1,323.7 164,318.8 C164.9,313.8 166,306.3 167.2,306 C168.4,305.7 169.9,310.4 171.1,317.2 C172.3,324 173.1,337.8 174.2,346.9 C175.3,356 176.4,366.1 177.8,372 C179.2,377.9 181.1,379.2 182.5,382.5 C183.9,385.8 185.1,389.4 186.4,391.9 C187.7,394.4 188.9,397.8 190.3,397.3 C191.7,396.8 193.4,391.6 195,388.8 C196.6,385.9 198,382.3 199.7,380.2 C201.4,378.1 203.5,378.5 205.2,376.2 C206.9,374 208.1,371.8 209.8,366.9 C211.5,362 213.7,352.3 215.3,346.6 C216.9,340.9 217.9,335.7 219.2,332.5 C220.5,329.3 221.7,327.1 223.1,327.3 C224.5,327.6 226.2,330 227.8,334 C229.4,338 230.9,345.8 232.5,351.2 C234.1,356.7 235.6,363.1 237.2,366.9 C238.8,370.7 240.3,371.8 241.9,373.9 C243.5,376 245.2,377.4 246.6,379.4 C247.9,381.3 248.9,384 250,385.6 C251.1,387.2 251.6,387.4 253.2,389 C254.8,390.6 257.7,395.3 259.4,395.3 C261.1,395.3 262.2,392.6 263.3,389 C264.4,385.4 265,379.1 265.7,373.4 C266.4,367.7 267,361.1 267.6,355 C268.2,348.9 268.8,343.8 269.6,336.9 C270.5,330 271.5,319.4 272.7,313.4 C273.9,307.4 275.3,301.4 276.6,300.8 C277.9,300.2 279.2,305.3 280.5,310 C281.8,314.7 283.3,322.5 284.4,329 C285.5,335.5 285.9,342 287,349 C288.1,356 289.3,364.8 290.7,371 C292.1,377.2 293.8,382.1 295.4,386 C296.9,389.9 298.8,392.8 300,394.5 C301.2,396.2 301.4,396.2 302.4,396.1 C303.4,396 305.4,394.1 306,393.8" fill="none" stroke="#d0121c" stroke-width="2.6"/>
<path d="M26,380.7 C26.7,379.4 29.1,377.8 30.3,372.9 C31.5,368 32.4,358.4 33.4,351.2 C34.4,344.1 35.7,335.8 36.5,329.9 C37.3,324.1 37.8,319.3 38.4,316.2 C39,313.2 39.5,312 40.1,311.8 C40.7,311.6 41.2,310.4 42,315.3 C42.8,320.1 44.2,332.8 45.1,340.7 C46,348.5 46.6,355.3 47.4,362.2 C48.2,369.2 49,377 49.8,382.2 C50.6,387.5 51.3,391.1 52.1,393.6 C52.9,396 53.6,396.6 54.5,397 C55.4,397.4 56.5,395.4 57.5,395.9 C58.5,396.4 59.6,396 60.7,400 C61.8,403.9 63.1,413.9 64.3,419.8 C65.5,425.7 66.7,434.9 67.8,435.4 C68.8,435.9 69.9,428.3 70.6,422.9 C71.3,417.4 71.6,410 72.1,402.8 C72.6,395.6 73,388.5 73.4,379.8 C73.8,371 73.9,360.1 74.3,350.2 C74.7,340.4 75.1,331.3 75.6,320.7 C76.1,310 76.6,295.3 77.1,286.2 C77.6,277.1 78.1,270.3 78.6,266 C79.1,261.7 79.5,260.4 79.9,260.5 C80.3,260.6 80.7,261.7 81.2,266.5 C81.7,271.3 82.3,280.1 82.8,289.2 C83.3,298.2 83.6,310.5 84.2,320.7 C84.8,330.9 85.7,342.3 86.3,350.2 C86.9,358.1 87.3,361.5 88.1,368 C88.9,374.4 89.9,388.5 90.9,389.1 C91.9,389.7 93.2,379.1 94.3,371.5 C95.4,363.9 96.4,350.9 97.4,343.7 C98.4,336.6 99.3,332.3 100.5,328.6 C101.7,324.8 103.4,320.6 104.7,321.2 C106,321.7 107.7,326.7 108.6,331.8 C109.5,336.9 109.5,344.4 110.2,351.8 C110.9,359.2 111.7,368.2 112.5,376.4 C113.3,384.7 114,395.2 115,401.4 C116,407.7 117.1,413.1 118.2,414.1 C119.3,415 120.4,410.6 121.5,407.4 C122.6,404.1 123.7,397.9 125,394.6 C126.3,391.2 128,388.7 129.4,387.2 C130.8,385.6 132.2,386.6 133.5,385.2 C134.8,383.8 135.9,382 137.5,378.7 C139.1,375.4 141.4,370.8 143,365.6 C144.6,360.3 145.7,351.9 146.9,347.2 C148.1,342.5 149.1,338.3 150.3,337.4 C151.5,336.6 152.7,340.6 153.9,342 C155.1,343.4 156.2,347.6 157.5,346.1 C158.8,344.6 160.6,337.2 161.7,333 C162.8,328.8 163.1,324.6 164,321 C164.9,317.4 166,311.8 167.2,311.7 C168.4,311.6 169.9,314.6 171.1,320.5 C172.3,326.4 173.1,338.6 174.2,347.2 C175.3,355.7 176.4,366.1 177.8,371.9 C179.2,377.7 181.1,379.6 182.5,382.2 C183.9,384.9 185.1,386.7 186.4,388 C187.7,389.3 188.9,390.8 190.3,390.3 C191.7,389.8 193.4,386.1 195,385 C196.6,383.9 198,384.7 199.7,384 C201.4,383.3 203.5,383.9 205.2,381 C206.9,378.1 208.1,372.6 209.8,366.9 C211.5,361.2 213.7,352.5 215.3,346.9 C216.9,341.2 217.9,336.2 219.2,333 C220.5,329.8 221.7,327.6 223.1,327.9 C224.5,328.1 226.2,330.5 227.8,334.5 C229.4,338.4 230.9,346.1 232.5,351.5 C234.1,356.9 235.6,363.2 237.2,366.9 C238.8,370.6 240.3,371.7 241.9,373.8 C243.5,375.8 245.2,377.3 246.6,379.2 C247.9,381.1 248.9,383.7 250,385.3 C251.1,386.9 251.6,387 253.2,388.6 C254.8,390.2 257.7,394.8 259.4,394.8 C261.1,394.8 262.2,392.2 263.3,388.6 C264.4,385 265,378.9 265.7,373.3 C266.4,367.7 267,361.1 267.6,355.1 C268.2,349.2 268.8,343.8 269.6,337.3 C270.5,330.8 271.5,321.3 272.7,316 C273.9,310.7 275.3,306.1 276.6,305.6 C277.9,305.1 279.2,309 280.5,313 C281.8,317 283.3,323.5 284.4,329.5 C285.5,335.6 285.9,342.3 287,349.2 C288.1,356.1 289.3,364.8 290.7,370.9 C292.1,377 293.8,381.8 295.4,385.7 C296.9,389.5 298.8,392.4 300,394.1 C301.2,395.7 301.4,395.8 302.4,395.6 C303.4,395.5 305.4,393.7 306,393.3" fill="none" stroke="#ef7f8c" stroke-width="2.0" stroke-opacity="0.92"/>
<path d="M25,449 C26.5,448.8 31.1,447.9 34,448 C36.9,448.1 39.7,449.9 42.3,449.8 C44.9,449.7 47.3,447.1 49.5,447.2 C51.7,447.3 53.6,450.6 55.7,450.3 C57.8,450 60.3,445.9 62,445.6 C63.7,445.3 64.6,446.7 65.9,448.8 C67.2,450.8 68.7,455.5 69.8,458 C70.9,460.5 71.5,464.5 72.7,464 C73.9,463.5 75.5,459.1 76.8,455 C78.1,450.9 79.5,442.8 80.7,439.4 C81.9,436 82.6,434.2 83.8,434.7 C85,435.2 86.3,439.9 87.8,442.5 C89.2,445.1 90.8,448.6 92.4,450.3 C94,452 95.4,453 97.1,452.7 C98.8,452.4 100.9,449.9 102.6,448.8 C104.3,447.6 105.7,445.3 107.3,445.6 C108.9,445.9 110.5,449.1 112,450.3 C113.5,451.5 114.3,453.1 116,452.7 C117.7,452.3 120.6,449 122.1,448 C123.6,447 122.9,447.4 125,446.9 C127.1,446.4 132.4,445 134.7,445.2 C137,445.4 137.6,447 139,448 C140.4,449 141.5,451.5 143.3,451.2 C145.1,450.9 147.9,446.2 149.7,446.3 C151.5,446.4 152.4,449.8 154,452 C155.6,454.2 157.3,460.1 159,459.8 C160.7,459.5 162.1,453.7 164,450 C165.9,446.3 168.2,438.1 170.6,437.7 C173,437.3 176.5,445.3 178.7,447.8 C180.9,450.3 182.1,451.2 184,452.5 C185.9,453.8 187.9,456.4 189.9,455.5 C191.9,454.6 193.9,449.4 196,447 C198.1,444.6 200.2,440.7 202.4,440.9 C204.6,441.1 206.7,445.9 209,448 C211.3,450.1 214.1,453.3 216.4,453.5 C218.7,453.7 220.7,450.6 223,449 C225.3,447.4 227.9,444.1 230.4,444.1 C232.9,444.1 235.3,447.7 238,449 C240.7,450.3 243.5,452.6 246.5,452 C249.5,451.4 253.8,445.8 256.2,445.6 C258.6,445.4 259.3,448.9 261,451 C262.7,453.1 264.5,458.3 266.3,458 C268.1,457.7 269.9,451.9 272,449 C274.1,446.1 276.7,441.3 279.2,440.9 C281.7,440.5 284.2,444.5 287,446.5 C289.8,448.5 293.6,452 295.9,452.7 C298.2,453.4 299.3,451.2 301,450.5 C302.7,449.8 305.2,448.8 306,448.4" fill="none" stroke="#000" stroke-width="2.4"/>
<path d="M25,251.8 H306.3 V466 H25 Z" fill="none" stroke="#000" stroke-width="2"/>
<line x1="46.7" y1="466" x2="46.7" y2="474" stroke="#000" stroke-width="2"/>
<text x="46.7" y="493" font-size="16.5" fill="#000" font-weight="normal" text-anchor="middle">2</text>
<line x1="90" y1="466" x2="90" y2="474" stroke="#000" stroke-width="2"/>
<text x="90" y="493" font-size="16.5" fill="#000" font-weight="normal" text-anchor="middle">3</text>
<line x1="133.3" y1="466" x2="133.3" y2="474" stroke="#000" stroke-width="2"/>
<text x="133.3" y="493" font-size="16.5" fill="#000" font-weight="normal" text-anchor="middle">4</text>
<line x1="176.6" y1="466" x2="176.6" y2="474" stroke="#000" stroke-width="2"/>
<text x="176.6" y="493" font-size="16.5" fill="#000" font-weight="normal" text-anchor="middle">5</text>
<line x1="219.9" y1="466" x2="219.9" y2="474" stroke="#000" stroke-width="2"/>
<text x="219.9" y="493" font-size="16.5" fill="#000" font-weight="normal" text-anchor="middle">6</text>
<line x1="263.2" y1="466" x2="263.2" y2="474" stroke="#000" stroke-width="2"/>
<text x="263.2" y="493" font-size="16.5" fill="#000" font-weight="normal" text-anchor="middle">7</text>
<line x1="306.5" y1="466" x2="306.5" y2="474" stroke="#000" stroke-width="2"/>
<text x="306.5" y="493" font-size="16.5" fill="#000" font-weight="normal" text-anchor="middle">8</text>
<line x1="25.1" y1="466" x2="25.1" y2="470.5" stroke="#000" stroke-width="2"/>
<line x1="68.3" y1="466" x2="68.3" y2="470.5" stroke="#000" stroke-width="2"/>
<line x1="111.6" y1="466" x2="111.6" y2="470.5" stroke="#000" stroke-width="2"/>
<line x1="154.9" y1="466" x2="154.9" y2="470.5" stroke="#000" stroke-width="2"/>
<line x1="198.2" y1="466" x2="198.2" y2="470.5" stroke="#000" stroke-width="2"/>
<line x1="241.6" y1="466" x2="241.6" y2="470.5" stroke="#000" stroke-width="2"/>
<line x1="284.8" y1="466" x2="284.8" y2="470.5" stroke="#000" stroke-width="2"/>
<text x="29.8" y="276" font-size="19" fill="#000" font-weight="bold" text-anchor="start" textLength="16.8" lengthAdjust="spacingAndGlyphs">c)</text>
<text transform="translate(18.6,392.5) rotate(-90)" font-size="15.2" fill="#000" textLength="41.5" lengthAdjust="spacingAndGlyphs">G (Å<tspan dy="-6" font-size="10.5">-2</tspan><tspan dy="6">)</tspan></text>
<text x="219.3" y="268" font-size="11.5" fill="#ee8c98" textLength="62.6" lengthAdjust="spacingAndGlyphs">1. Ar, 150°C</text>
<text x="219.3" y="284.5" font-size="11.5" font-weight="bold" fill="#d0121c" textLength="81.1" lengthAdjust="spacingAndGlyphs">2. H<tspan font-size="8">2</tspan>/Ar, 150°C</text>
<text x="25.2" y="443.3" font-size="12" fill="#000" font-weight="bold" text-anchor="start" textLength="38.2" lengthAdjust="spacingAndGlyphs">diff 2-1</text>
<rect x="276" y="397" width="23" height="14" fill="#fff"/>
<text x="276.6" y="409.4" font-size="14.2" fill="#000" font-weight="normal" text-anchor="start" textLength="21.6" lengthAdjust="spacingAndGlyphs">0.2</text>
<line x1="301.2" y1="404.8" x2="301.2" y2="429.7" stroke="#000" stroke-width="2.4"/>
<text x="136.6" y="505.8" font-size="15.2" fill="#000" font-weight="normal" text-anchor="start" textLength="33.6" lengthAdjust="spacingAndGlyphs">R (Å)</text>
<defs><linearGradient id="gb" x1="0" y1="0" x2="0" y2="1"><stop offset="0" stop-color="#3a84c4"/><stop offset="0.5" stop-color="#8fc6e4"/><stop offset="1" stop-color="#e0f6fc"/></linearGradient><linearGradient id="gbl" x1="0" y1="0" x2="0" y2="1"><stop offset="0" stop-color="#4a84c2"/><stop offset="1" stop-color="#e4f8fc"/></linearGradient><linearGradient id="gm" x1="0" y1="0" x2="0" y2="1"><stop offset="0" stop-color="#d060f0"/><stop offset="1" stop-color="#f6ecfa"/></linearGradient><linearGradient id="gml" x1="0" y1="0" x2="0" y2="1"><stop offset="0" stop-color="#cc44ee"/><stop offset="1" stop-color="#f4e6f8"/></linearGradient><linearGradient id="ga2" gradientUnits="userSpaceOnUse" x1="440" y1="0" x2="490" y2="0"><stop offset="0" stop-color="#c8c8c8"/><stop offset="1" stop-color="#7a7a7a"/></linearGradient></defs>
<line x1="350.4" y1="250.5" x2="350.4" y2="465" stroke="#dadada" stroke-width="1"/>
<line x1="378.4" y1="250.5" x2="378.4" y2="465" stroke="#dadada" stroke-width="1"/>
<line x1="406.5" y1="250.5" x2="406.5" y2="465" stroke="#dadada" stroke-width="1"/>
<line x1="434.5" y1="250.5" x2="434.5" y2="465" stroke="#dadada" stroke-width="1"/>
<line x1="462.5" y1="250.5" x2="462.5" y2="465" stroke="#dadada" stroke-width="1"/>
<line x1="490.5" y1="250.5" x2="490.5" y2="465" stroke="#dadada" stroke-width="1"/>
<line x1="518.6" y1="250.5" x2="518.6" y2="465" stroke="#dadada" stroke-width="1"/>
<line x1="546.6" y1="250.5" x2="546.6" y2="465" stroke="#dadada" stroke-width="1"/>
<line x1="574.6" y1="250.5" x2="574.6" y2="465" stroke="#dadada" stroke-width="1"/>
<line x1="602.7" y1="250.5" x2="602.7" y2="465" stroke="#dadada" stroke-width="1"/>
<line x1="630.7" y1="250.5" x2="630.7" y2="465" stroke="#dadada" stroke-width="1"/>
<line x1="322" y1="254.7" x2="658.8" y2="254.7" stroke="#dadada" stroke-width="1"/>
<line x1="322" y1="278" x2="658.8" y2="278" stroke="#dadada" stroke-width="1"/>
<line x1="322" y1="301.2" x2="658.8" y2="301.2" stroke="#dadada" stroke-width="1"/>
<line x1="322" y1="324.5" x2="658.8" y2="324.5" stroke="#dadada" stroke-width="1"/>
<line x1="322" y1="347.7" x2="658.8" y2="347.7" stroke="#dadada" stroke-width="1"/>
<line x1="322" y1="371" x2="658.8" y2="371" stroke="#dadada" stroke-width="1"/>
<line x1="322" y1="394.3" x2="658.8" y2="394.3" stroke="#dadada" stroke-width="1"/>
<line x1="322" y1="417.5" x2="658.8" y2="417.5" stroke="#dadada" stroke-width="1"/>
<line x1="322" y1="440.8" x2="658.8" y2="440.8" stroke="#dadada" stroke-width="1"/>
<rect x="323.2" y="258" width="21" height="31" fill="#fff"/>
<rect x="480" y="256" width="110" height="82.5" fill="#fff"/>
<rect x="589" y="256" width="53" height="40" fill="#fff"/>
<path d="M322.5,456 L323.5,455.5 L324.5,454.9 L325.5,454.2 L326.5,453.6 L327.5,452.9 L328.5,452.1 L329.5,451.3 L330.5,450.4 L331.5,449.4 L332.5,448.4 L333.5,447.3 L334.5,446.1 L335.5,444.8 L336.5,443.4 L337.5,441.9 L338.5,440.3 L339.5,438.5 L340.5,436.7 L341.5,434.7 L342.5,432.5 L343.5,430.3 L344.5,427.9 L345.5,425.3 L346.5,422.6 L347.5,419.8 L348.5,416.9 L349.5,413.9 L350.5,410.7 L351.5,407.4 L352.5,404 L353.5,400.5 L354.5,397 L355.5,393.3 L356.5,389.6 L357.5,385.8 L358.5,382 L359.5,378.1 L360.5,374.2 L361.5,370.3 L362.5,366.4 L363.5,363.1 L364.5,359.9 L365.5,356.6 L366.5,353.4 L367.5,350.1 L368.5,347 L369.5,343.8 L370.5,340.8 L371.5,337.7 L372.5,334.8 L373.5,331.9 L374.5,329.1 L375.5,326.4 L376.5,323.9 L377.5,321.4 L378.5,319 L379.5,316.8 L380.5,314.7 L381.5,312.7 L382.5,310.9 L383.5,309.2 L384.5,307.7 L385.5,306.3 L386.5,305.1 L387.5,304.1 L388.5,303.3 L389.5,302.6 L390.5,302.1 L391.5,301.8 L392.5,301.6 L393.5,301.6 L394.5,301.9 L395.5,302.3 L396.5,302.8 L397.5,303.6 L398.5,304.5 L399.5,305.6 L400.5,306.9 L401.5,308.3 L402.5,309.9 L403.5,311.6 L404.5,313.5 L405.5,315.5 L406.5,317.7 L407.5,319.9 L408.5,322.4 L409.5,324.9 L410.5,327.5 L411.5,330.2 L412.5,333.1 L413.5,336 L414.5,338.9 L415.5,342 L416.5,345.1 L417.5,348.2 L418.5,351.4 L419.5,354.6 L420.5,357.9 L421.5,361.2 L422.5,364.4 L423.5,367.7 L424.5,371 L425.5,374.3 L426.5,377.5 L427.5,380.7 L428.5,383.9 L429.5,387 L430.5,390.2 L431.5,393.2 L432.5,396.2 L433.5,399.2 L434.5,402.1 L435.5,404.9 L436.5,407.7 L437.5,410.3 L438.5,413 L439.5,415.5 L440.5,418 L441.5,420.4 L442.5,422.7 L443.5,424.9 L444.5,427.1 L445.5,429.1 L446.5,431.1 L447.5,433 L448.5,434.9 L449.5,436.6 L450.5,438.3 L451.5,439.9 L452.5,441.4 L453.5,442.9 L454.5,444.2 L455.5,445.5 L456.5,446.8 L457.5,447.9 L458.5,449.1 L459.5,450.1 L460.5,451.1 L461.5,452 L462.5,452.9 L463.5,453.7 L464.5,454.5 L465.5,455.2 L466.5,455.9 L467.5,456.5 L468.5,457.1 L469.5,457.6 L470.5,458.1 L471.5,458.6 L472.5,459 L473.5,459.4 L474.5,459.8 L475.5,460.2 L476.5,460.5 L477.5,460.8 L478.5,461.1 L479.5,461.3 L480.5,461.5 L481.5,461.7 L482.5,461.9 L483.5,462.1 L484.5,462.3 L485.5,462.4 L486.5,462.6 L487.5,462.7 L488.5,462.8 L489.5,462.9 L490.5,463 L491.5,463.1 L492.5,463.2 L493.5,463.2 L494.5,463.3 L495.5,463.3 L496.5,463.4 L497.5,463.4 L498.5,463.5 L499.5,463.5 L500,463.8 L322.5,463.8 Z" fill="url(#gb)" fill-opacity="0.82" stroke="none"/>
<path d="M350,412.3 L351,409.1 L352,405.7 L353,402.3 L354,398.8 L355,395.1 L356,391.5 L357,387.7 L358,383.9 L359,380.1 L360,376.2 L361,372.3 L362,368.3 L363,364.8 L364,361.5 L365,358.2 L366,355 L367,351.7 L368,348.5 L369,345.4 L370,342.3 L371,339.2 L372,336.3 L373,333.3 L374,330.5 L375,327.8 L376,325.1 L377,322.6 L378,320.2 L379,317.9 L380,315.7 L381,313.7 L382,311.8 L383,310 L384,308.4 L385,307 L386,305.7 L387,304.6 L388,303.7 L389,302.9 L390,302.3 L391,301.9 L392,301.7 L393,301.6 L394,301.7 L395,302 L396,302.5 L397,303.2 L398,304 L399,305 L400,306.2 L401,307.5 L402,309.1 L403,310.7 L404,312.5 L405,314.5 L406,316.6 L407,318.8 L408,321.1 L409,323.6 L410,326.2 L411,328.9 L412,331.6 L413,334.5 L414,337.4 L415,340.4 L416,343.5 L417,346.6 L418,349.8 L419,353 L420,356.3 L421,359.5 L422,362.8 L423,366.1 L424,369.4 L425,372.6 L426,375.9 L427,379.1 L428,382.3 L429,385.5 L430,388.6 L431,391.7 L432,394.7 L433,397.7 L434,400.6 L435,403.5 L436,406.3 L437,409 L438,411.7 L439,414.2 L440,416.8 L441,419.2 L442,421.5 L443,423.8 L444,426 L445,428.1 L446,430.1 L447,432.1 L448,434 L449,435.7 L450,437.5 L451,439.1 L452,440.7 L453,442.1 L454,443.6 L455,444.9 L456,446.2" fill="none" stroke="#2f72b8" stroke-width="1.6"/>
<path d="M330,463.7 L331,463.7 L332,463.7 L333,463.7 L334,463.7 L335,463.6 L336,463.6 L337,463.6 L338,463.6 L339,463.5 L340,463.5 L341,463.4 L342,463.4 L343,463.3 L344,463.3 L345,463.2 L346,463.1 L347,463.1 L348,463 L349,462.9 L350,462.8 L351,462.7 L352,462.5 L353,462.4 L354,462.2 L355,462 L356,461.9 L357,461.7 L358,461.4 L359,461.2 L360,460.9 L361,460.6 L362,460.3 L363,460 L364,459.7 L365,459.3 L366,458.9 L367,458.5 L368,458 L369,457.5 L370,457 L371,456.4 L372,455.8 L373,455.2 L374,454.6 L375,453.9 L376,453.2 L377,452.4 L378,451.7 L379,450.8 L380,450 L381,449.1 L382,448.2 L383,447.3 L384,446.3 L385,445.3 L386,444.3 L387,443.2 L388,442.2 L389,441.1 L390,440 L391,438.9 L392,437.7 L393,436.6 L394,435.5 L395,434.3 L396,433.2 L397,432.1 L398,431 L399,429.9 L400,428.8 L401,427.7 L402,426.7 L403,425.7 L404,424.7 L405,423.8 L406,422.9 L407,422.1 L408,421.3 L409,420.6 L410,419.9 L411,419.3 L412,418.8 L413,418.3 L414,417.9 L415,417.5 L416,417.3 L417,417.1 L418,416.9 L419,416.9 L420,416.9 L421,417 L422,417.2 L423,417.5 L424,417.8 L425,418.2 L426,418.7 L427,419.2 L428,419.8 L429,420.4 L430,421.2 L431,421.9 L432,422.7 L433,423.6 L434,424.5 L435,425.5 L436,426.5 L437,427.5 L438,428.6 L439,429.6 L440,430.7 L441,431.8 L442,433 L443,434.1 L444,435.2 L445,436.4 L446,437.5 L447,438.6 L448,439.8 L449,440.9 L450,442 L451,443 L452,444.1 L453,445.1 L454,446.1 L455,447.1 L456,448 L457,448.9 L458,449.8 L459,450.7 L460,451.5 L461,452.3 L462,453 L463,453.8 L464,454.5 L465,455.1 L466,455.7 L467,456.3 L468,456.9 L469,457.4 L470,457.9 L471,458.4 L472,458.8 L473,459.2 L474,459.6 L475,459.9 L476,460.3 L477,460.6 L478,460.9 L479,461.1 L480,461.4 L481,461.6 L482,461.8 L483,462 L484,462.2 L485,462.3 L486,462.5 L487,462.6 L488,462.7 L489,462.9 L490,463 L491,463 L492,463.1 L493,463.2 L494,463.3 L495,463.3 L496,463.4 L497,463.4 L498,463.5 L499,463.5 L500,463.6 L501,463.6 L502,463.6 L503,463.6 L504,463.7 L505,463.7 L506,463.7 L507,463.7 L508,463.7 L509,463.7 L510,463.7 L511,463.7 L512,463.8 L513,463.8 L514,463.8 L515,463.8 L516,463.8 L517,463.8 L518,463.8 L519,463.8 L520,463.8 L520,463.8 L330,463.8 Z" fill="#f3f3f3" fill-opacity="0.92" stroke="none"/>
<path d="M340,463.5 L341,463.4 L342,463.4 L343,463.3 L344,463.3 L345,463.2 L346,463.1 L347,463.1 L348,463 L349,462.9 L350,462.8 L351,462.7 L352,462.5 L353,462.4 L354,462.2 L355,462 L356,461.9 L357,461.7 L358,461.4 L359,461.2 L360,460.9 L361,460.6 L362,460.3 L363,460 L364,459.7 L365,459.3 L366,458.9 L367,458.5 L368,458 L369,457.5 L370,457 L371,456.4 L372,455.8 L373,455.2 L374,454.6 L375,453.9 L376,453.2 L377,452.4 L378,451.7 L379,450.8 L380,450 L381,449.1 L382,448.2 L383,447.3 L384,446.3 L385,445.3 L386,444.3 L387,443.2 L388,442.2 L389,441.1 L390,440 L391,438.9 L392,437.7 L393,436.6 L394,435.5 L395,434.3 L396,433.2 L397,432.1 L398,431 L399,429.9 L400,428.8 L401,427.7 L402,426.7 L403,425.7 L404,424.7 L405,423.8 L406,422.9 L407,422.1 L408,421.3 L409,420.6 L410,419.9 L411,419.3 L412,418.8 L413,418.3 L414,417.9 L415,417.5 L416,417.3 L417,417.1 L418,416.9 L419,416.9 L420,416.9 L421,417 L422,417.2 L423,417.5 L424,417.8 L425,418.2 L426,418.7 L427,419.2 L428,419.8 L429,420.4 L430,421.2 L431,421.9 L432,422.7 L433,423.6 L434,424.5 L435,425.5 L436,426.5 L437,427.5 L438,428.6 L439,429.6 L440,430.7 L441,431.8 L442,433 L443,434.1 L444,435.2 L445,436.4 L446,437.5 L447,438.6 L448,439.8 L449,440.9 L450,442 L451,443 L452,444.1 L453,445.1 L454,446.1 L455,447.1 L456,448 L457,448.9 L458,449.8 L459,450.7 L460,451.5 L461,452.3 L462,453 L463,453.8 L464,454.5 L465,455.1 L466,455.7 L467,456.3 L468,456.9 L469,457.4 L470,457.9 L471,458.4 L472,458.8 L473,459.2 L474,459.6 L475,459.9 L476,460.3 L477,460.6 L478,460.9 L479,461.1 L480,461.4 L481,461.6 L482,461.8 L483,462 L484,462.2 L485,462.3 L486,462.5 L487,462.6 L488,462.7 L489,462.9 L490,463 L491,463 L492,463.1 L493,463.2 L494,463.3 L495,463.3 L496,463.4 L497,463.4 L498,463.5 L499,463.5 L500,463.6" fill="none" stroke="#c4c4c4" stroke-width="1.5"/>
<path d="M442,456.4 L443,456 L444,455.6 L445,455.2 L446,454.8 L447,454.4 L448,453.9 L449,453.4 L450,452.9 L451,452.4 L452,451.8 L453,451.3 L454,450.7 L455,450.1 L456,449.5 L457,448.8 L458,448.2 L459,447.5 L460,446.8 L461,446.1 L462,445.3 L463,444.6 L464,443.8 L465,443 L466,442.1 L467,441.3 L468,440.4 L469,439.5 L470,438.6 L471,437.6 L472,436.7 L473,435.7 L474,434.7 L475,433.7 L476,432.6 L477,431.5 L478,430.5 L479,429.4 L480,428.2 L481,427.1 L482,425.9 L483,424.7 L484,423.6 L485,422.3 L486,421.1 L487,419.9 L488,418.6 L489,417.4 L490,416.1 L491,414.8 L492,413.5 L493,412.2 L494,410.9 L495,409.6 L496,408.3 L497,406.9 L498,405.6 L499,404.3 L500,402.9 L501,401.6 L502,400.3 L503,399 L504,397.7 L505,396.4 L506,395.1 L507,393.8 L508,392.5 L509,391.2 L510,390 L511,388.8 L512,387.5 L513,386.4 L514,385.2 L515,384 L516,382.9 L517,381.8 L518,380.7 L519,379.7 L520,378.7 L521,377.7 L522,376.7 L523,375.8 L524,374.9 L525,374.1 L526,373.3 L527,372.5 L528,371.8 L529,371.1 L530,370.4 L531,369.8 L532,369.2 L533,368.7 L534,368.2 L535,367.8 L536,367.4 L537,367.1 L538,366.8 L539,366.6 L540,366.4 L541,366.2 L542,366.1 L543,366.1 L544,366.1 L545,366.2 L546,366.3 L547,366.4 L548,366.6 L549,366.9 L550,367.2 L551,367.5 L552,367.9 L553,368.3 L554,368.8 L555,369.3 L556,369.9 L557,370.5 L558,371.2 L559,371.9 L560,372.6 L561,373.4 L562,374.2 L563,375.1 L564,376 L565,376.9 L566,377.9 L567,378.9 L568,379.9 L569,380.9 L570,382 L571,383.1 L572,384.3 L573,385.4 L574,386.6 L575,387.8 L576,389 L577,390.2 L578,391.5 L579,392.8 L580,394 L581,395.3 L582,396.6 L583,397.9 L584,399.2 L585,400.6 L586,401.9 L587,403.2 L588,404.5 L589,405.9 L590,407.2 L591,408.5 L592,409.8 L593,411.2 L594,412.5 L595,413.8 L596,415.1 L597,416.3 L598,417.6 L599,418.9 L600,420.1 L601,421.4 L602,422.6 L603,423.8 L604,425 L605,426.2 L606,427.3 L607,428.5 L608,429.6 L609,430.7 L610,431.8 L611,432.8 L612,433.9 L613,434.9 L614,435.9 L615,436.9 L616,437.8 L617,438.8 L618,439.7 L619,440.6 L620,441.4 L621,442.3 L622,443.1 L623,443.9 L624,444.7 L625,445.5 L626,446.2 L627,446.9 L628,447.6 L629,448.3 L630,449 L631,449.6 L632,450.2 L633,450.8 L634,451.4 L635,451.9 L636,452.5 L637,453 L638,453.5 L639,454 L640,454.4" fill="none" stroke="url(#ga2)" stroke-width="1.8"/>
<path d="M500,463.8 L501,463.8 L502,463.8 L503,463.7 L504,463.7 L505,463.7 L506,463.7 L507,463.7 L508,463.7 L509,463.7 L510,463.6 L511,463.6 L512,463.6 L513,463.6 L514,463.5 L515,463.5 L516,463.5 L517,463.4 L518,463.4 L519,463.3 L520,463.2 L521,463.2 L522,463.1 L523,463 L524,462.9 L525,462.8 L526,462.7 L527,462.6 L528,462.4 L529,462.3 L530,462.1 L531,461.9 L532,461.7 L533,461.5 L534,461.3 L535,461.1 L536,460.8 L537,460.6 L538,460.3 L539,460 L540,459.7 L541,459.4 L542,459 L543,458.7 L544,458.3 L545,457.9 L546,457.5 L547,457.1 L548,456.7 L549,456.3 L550,455.8 L551,455.4 L552,454.9 L553,454.5 L554,454 L555,453.5 L556,453.1 L557,452.6 L558,452.2 L559,451.7 L560,451.3 L561,450.9 L562,450.5 L563,450.1 L564,449.7 L565,449.3 L566,449 L567,448.7 L568,448.4 L569,448.2 L570,448 L571,447.8 L572,447.7 L573,447.5 L574,447.5 L575,447.4 L576,447.4 L577,447.4 L578,447.5 L579,447.6 L580,447.7 L581,447.9 L582,448.1 L583,448.3 L584,448.6 L585,448.8 L586,449.1 L587,449.5 L588,449.8 L589,450.2 L590,450.6 L591,451 L592,451.5 L593,451.9 L594,452.3 L595,452.8 L596,453.3 L597,453.7 L598,454.2 L599,454.6 L600,455.1 L601,455.5 L602,456 L603,456.4 L604,456.9 L605,457.3 L606,457.7 L607,458.1 L608,458.5 L609,458.8 L610,459.2 L611,459.5 L612,459.8 L613,460.1 L614,460.4 L615,460.7 L616,460.9 L617,461.2 L618,461.4 L619,461.6 L620,461.8 L621,462 L622,462.2 L623,462.3 L624,462.5 L625,462.6 L626,462.7 L627,462.8 L628,462.9 L629,463 L630,463.1 L631,463.2 L632,463.3 L633,463.3 L634,463.4 L635,463.4 L636,463.5 L637,463.5 L638,463.6 L639,463.6 L640,463.6 L641,463.6 L642,463.7 L643,463.7 L644,463.7 L645,463.7 L646,463.7 L647,463.7 L648,463.7 L649,463.8 L650,463.8 L650,463.8 L500,463.8 Z" fill="url(#gm)" stroke="none"/>
<path d="M500,463.8 L501,463.8 L502,463.8 L503,463.7 L504,463.7 L505,463.7 L506,463.7 L507,463.7 L508,463.7 L509,463.7 L510,463.6 L511,463.6 L512,463.6 L513,463.6 L514,463.5 L515,463.5 L516,463.5 L517,463.4 L518,463.4 L519,463.3 L520,463.2 L521,463.2 L522,463.1 L523,463 L524,462.9 L525,462.8 L526,462.7 L527,462.6 L528,462.4 L529,462.3 L530,462.1 L531,461.9 L532,461.7 L533,461.5 L534,461.3 L535,461.1 L536,460.8 L537,460.6 L538,460.3 L539,460 L540,459.7 L541,459.4 L542,459 L543,458.7 L544,458.3 L545,457.9 L546,457.5 L547,457.1 L548,456.7 L549,456.3 L550,455.8 L551,455.4 L552,454.9 L553,454.5 L554,454 L555,453.5 L556,453.1 L557,452.6 L558,452.2 L559,451.7 L560,451.3 L561,450.9 L562,450.5 L563,450.1 L564,449.7 L565,449.3 L566,449 L567,448.7 L568,448.4 L569,448.2 L570,448 L571,447.8 L572,447.7 L573,447.5 L574,447.5 L575,447.4 L576,447.4 L577,447.4 L578,447.5 L579,447.6 L580,447.7 L581,447.9 L582,448.1 L583,448.3 L584,448.6 L585,448.8 L586,449.1 L587,449.5 L588,449.8 L589,450.2 L590,450.6 L591,451 L592,451.5 L593,451.9 L594,452.3 L595,452.8 L596,453.3 L597,453.7 L598,454.2 L599,454.6 L600,455.1 L601,455.5 L602,456 L603,456.4 L604,456.9 L605,457.3 L606,457.7 L607,458.1 L608,458.5 L609,458.8 L610,459.2 L611,459.5 L612,459.8 L613,460.1 L614,460.4 L615,460.7 L616,460.9 L617,461.2 L618,461.4 L619,461.6 L620,461.8 L621,462 L622,462.2 L623,462.3 L624,462.5 L625,462.6 L626,462.7 L627,462.8 L628,462.9 L629,463 L630,463.1 L631,463.2 L632,463.3 L633,463.3 L634,463.4 L635,463.4 L636,463.5 L637,463.5 L638,463.6 L639,463.6 L640,463.6 L641,463.6 L642,463.7 L643,463.7 L644,463.7 L645,463.7 L646,463.7 L647,463.7 L648,463.7 L649,463.8 L650,463.8" fill="none" stroke="#e040f0" stroke-width="1.6"/>
<path d="M322.5,455.5 L323.5,455 L324.5,454.4 L325.5,453.7 L326.5,453.1 L327.5,452.4 L328.5,451.6 L329.5,450.8 L330.5,449.9 L331.5,448.9 L332.5,447.9 L333.5,446.8 L334.5,445.6 L335.5,444.3 L336.5,442.9 L337.5,441.4 L338.5,439.8 L339.5,438 L340.5,436.2 L341.5,434.2 L342.5,432 L343.5,429.8 L344.5,427.4 L345.5,424.8 L346.5,422.1 L347.5,419.3 L348.5,416.4 L349.5,413.4 L350.5,410.2 L351.5,406.9 L352.5,403.5 L353.5,400 L354.5,396.5 L355.5,392.8 L356.5,389.1 L357.5,385.3 L358.5,381.5 L359.5,377.6 L360.5,373.7 L361.5,369.8 L362.5,365.9 L363.5,361.9 L364.5,358 L365.5,354 L366.5,350.1 L367.5,346.2 L368.5,342.3 L369.5,338.5 L370.5,334.7 L371.5,330.9 L372.5,327.2 L373.5,323.6 L374.5,320.1 L375.5,316.6 L376.5,313.2 L377.5,309.8 L378.5,306.6 L379.5,303.5 L380.5,300.5 L381.5,297.6 L382.5,294.8 L383.5,292.1 L384.5,289.6 L385.5,287.2 L386.5,284.9 L387.5,282.8 L388.5,280.9 L389.5,279.1 L390.5,277.4 L391.5,276 L392.5,274.7 L393.5,273.5 L394.5,272.6 L395.5,271.8 L396.5,271.2 L397.5,270.8 L398.5,270.6 L399.5,270.6 L400.5,270.7 L401.5,271.1 L402.5,271.6 L403.5,272.3 L404.5,273.2 L405.5,274.2 L406.5,275.5 L407.5,276.9 L408.5,278.5 L409.5,280.2 L410.5,282.2 L411.5,284.2 L412.5,286.4 L413.5,288.8 L414.5,291.3 L415.5,294 L416.5,296.7 L417.5,299.6 L418.5,302.6 L419.5,305.7 L420.5,308.9 L421.5,312.1 L422.5,315.5 L423.5,318.9 L424.5,322.4 L425.5,325.9 L426.5,329.5 L427.5,333 L428.5,336.7 L429.5,340.3 L430.5,343.9 L431.5,347.5 L432.5,351.2 L433.5,354.8 L434.5,358.3 L435.5,361.8 L436.5,365.3 L437.5,368.7 L438.5,372.1 L439.5,375.4 L440.5,378.6 L441.5,381.8 L442.5,384.9 L443.5,387.8 L444.5,390.7 L445.5,393.5 L446.5,396.2 L447.5,398.7 L448.5,401.2 L449.5,403.6 L450.5,405.8 L451.5,407.9 L452.5,410 L453.5,411.8 L454.5,413.6 L455.5,415.3 L456.5,416.8 L457.5,418.2 L458.5,419.6 L459.5,420.7 L460.5,421.8 L461.5,422.8 L462.5,423.6 L463.5,424.4 L464.5,425 L465.5,425.6 L466.5,426 L467.5,426.3 L468.5,426.6 L469.5,426.7 L470.5,426.8 L471.5,426.7 L472.5,426.6 L473.5,426.4 L474.5,426.2 L475.5,425.8 L476.5,425.4 L477.5,424.9 L478.5,424.4 L479.5,423.8 L480.5,423.1 L481.5,422.4 L482.5,421.6 L483.5,420.8 L484.5,419.9 L485.5,419 L486.5,418 L487.5,417 L488.5,416 L489.5,414.9 L490.5,413.8 L491.5,412.7 L492.5,411.6 L493.5,410.4 L494.5,409.2 L495.5,408 L496.5,406.8 L497.5,405.5 L498.5,404.3 L499.5,403 L500.5,401.8 L501.5,400.5 L502.5,399.2 L503.5,397.9 L504.5,396.6 L505.5,395.4 L506.5,394.1 L507.5,392.8 L508.5,391.6 L509.5,390.3 L510.5,389.1 L511.5,387.8 L512.5,386.6 L513.5,385.4 L514.5,384.2 L515.5,383.1 L516.5,381.9 L517.5,380.8 L518.5,379.7 L519.5,378.6 L520.5,377.5 L521.5,376.5 L522.5,375.5 L523.5,374.5 L524.5,373.5 L525.5,372.6 L526.5,371.7 L527.5,370.8 L528.5,369.9 L529.5,369.1 L530.5,368.3 L531.5,367.5 L532.5,366.8 L533.5,366.1 L534.5,365.4 L535.5,364.8 L536.5,364.2 L537.5,363.6 L538.5,363 L539.5,362.5 L540.5,362 L541.5,361.6 L542.5,361.2 L543.5,360.8 L544.5,360.4 L545.5,360.1 L546.5,359.9 L547.5,359.6 L548.5,359.4 L549.5,359.2 L550.5,359.1 L551.5,359 L552.5,359 L553.5,359 L554.5,359 L555.5,359.1 L556.5,359.3 L557.5,359.4 L558.5,359.7 L559.5,360 L560.5,360.3 L561.5,360.7 L562.5,361.1 L563.5,361.6 L564.5,362.2 L565.5,362.8 L566.5,363.4 L567.5,364.1 L568.5,364.9 L569.5,365.8 L570.5,366.7 L571.5,367.6 L572.5,368.6 L573.5,369.7 L574.5,370.8 L575.5,372 L576.5,373.2 L577.5,374.5 L578.5,375.8 L579.5,377.2 L580.5,378.7 L581.5,380.1 L582.5,381.6 L583.5,383.2 L584.5,384.8 L585.5,386.4 L586.5,388.1 L587.5,389.7 L588.5,391.4 L589.5,393.1 L590.5,394.9 L591.5,396.6 L592.5,398.4 L593.5,400.1 L594.5,401.9 L595.5,403.6 L596.5,405.4 L597.5,407.1 L598.5,408.9 L599.5,410.6 L600.5,412.3 L601.5,414 L602.5,415.6 L603.5,417.2 L604.5,418.8 L605.5,420.4 L606.5,422 L607.5,423.5 L608.5,425 L609.5,426.4 L610.5,427.8 L611.5,429.2 L612.5,430.6 L613.5,431.9 L614.5,433.1 L615.5,434.4 L616.5,435.6 L617.5,436.7 L618.5,437.8 L619.5,438.9 L620.5,440 L621.5,441 L622.5,442 L623.5,442.9 L624.5,443.8 L625.5,444.7 L626.5,445.6 L627.5,446.4 L628.5,447.2 L629.5,447.9 L630.5,448.6 L631.5,449.3 L632.5,450 L633.5,450.7 L634.5,451.3 L635.5,451.9 L636.5,452.4 L637.5,453 L638.5,453.5 L639.5,454 L640.5,454.5 L641.5,454.9 L642.5,455.4 L643.5,455.8 L644.5,456.2 L645.5,456.6 L646.5,457 L647.5,457.3 L648.5,457.7" fill="none" stroke="#e0202a" stroke-width="3" stroke-linecap="round"/>
<g fill="#000"><circle cx="322.6" cy="460.4" r="1.85"/><circle cx="325.5" cy="459.8" r="1.85"/><circle cx="328.5" cy="458.4" r="1.85"/><circle cx="331.4" cy="456" r="1.85"/><circle cx="334.3" cy="452.5" r="1.85"/><circle cx="337.3" cy="447.6" r="1.85"/><circle cx="340.2" cy="441.4" r="1.85"/><circle cx="343.1" cy="434" r="1.85"/><circle cx="346" cy="425.7" r="1.85"/><circle cx="349" cy="416.4" r="1.85"/><circle cx="351.9" cy="406.3" r="1.85"/><circle cx="354.8" cy="395.7" r="1.85"/><circle cx="357.8" cy="384.5" r="1.85"/><circle cx="360.7" cy="373.1" r="1.85"/><circle cx="363.6" cy="361.5" r="1.85"/><circle cx="366.6" cy="349.9" r="1.85"/><circle cx="369.5" cy="338.6" r="1.85"/><circle cx="372.4" cy="327.6" r="1.85"/><circle cx="375.3" cy="317.2" r="1.85"/><circle cx="378.3" cy="307.5" r="1.85"/><circle cx="381.2" cy="298.7" r="1.85"/><circle cx="384.1" cy="291" r="1.85"/><circle cx="387.1" cy="284.7" r="1.85"/><circle cx="390" cy="279.8" r="1.85"/><circle cx="392.9" cy="276.4" r="1.85"/><circle cx="395.9" cy="274.4" r="1.85"/><circle cx="398.8" cy="273.6" r="1.85"/><circle cx="401.7" cy="274" r="1.85"/><circle cx="404.6" cy="275.6" r="1.85"/><circle cx="407.6" cy="278.7" r="1.85"/><circle cx="410.5" cy="283.2" r="1.85"/><circle cx="413.4" cy="289.2" r="1.85"/><circle cx="416.4" cy="296.6" r="1.85"/><circle cx="419.3" cy="305.2" r="1.85"/><circle cx="422.2" cy="314.6" r="1.85"/><circle cx="425.2" cy="324.7" r="1.85"/><circle cx="428.1" cy="335.1" r="1.85"/><circle cx="431" cy="345.8" r="1.85"/><circle cx="433.9" cy="356.3" r="1.85"/><circle cx="436.9" cy="366.6" r="1.85"/><circle cx="439.8" cy="376.4" r="1.85"/><circle cx="442.7" cy="385.5" r="1.85"/><circle cx="445.7" cy="393.9" r="1.85"/><circle cx="448.6" cy="401.5" r="1.85"/><circle cx="451.5" cy="408.1" r="1.85"/><circle cx="454.5" cy="413.8" r="1.85"/><circle cx="457.4" cy="418.5" r="1.85"/><circle cx="460.3" cy="422.4" r="1.85"/><circle cx="463.2" cy="425.5" r="1.85"/><circle cx="466.2" cy="427.5" r="1.85"/><circle cx="469.1" cy="428.6" r="1.85"/><circle cx="472" cy="428.7" r="1.85"/><circle cx="475" cy="427.8" r="1.85"/><circle cx="477.9" cy="426.1" r="1.85"/><circle cx="480.8" cy="423.8" r="1.85"/><circle cx="483.8" cy="421.1" r="1.85"/><circle cx="486.7" cy="418.1" r="1.85"/><circle cx="489.6" cy="415" r="1.85"/><circle cx="492.5" cy="411.6" r="1.85"/><circle cx="495.5" cy="408.1" r="1.85"/><circle cx="498.4" cy="404.4" r="1.85"/><circle cx="501.3" cy="400.7" r="1.85"/><circle cx="504.3" cy="397" r="1.85"/><circle cx="507.2" cy="393.2" r="1.85"/><circle cx="510.1" cy="389.5" r="1.85"/><circle cx="513.1" cy="386" r="1.85"/><circle cx="516" cy="382.5" r="1.85"/><circle cx="518.9" cy="379.2" r="1.85"/><circle cx="521.8" cy="376.1" r="1.85"/><circle cx="524.8" cy="373.3" r="1.85"/><circle cx="527.7" cy="370.6" r="1.85"/><circle cx="530.6" cy="368.2" r="1.85"/><circle cx="533.6" cy="366.1" r="1.85"/><circle cx="536.5" cy="364.2" r="1.85"/><circle cx="539.4" cy="362.6" r="1.85"/><circle cx="542.3" cy="361.2" r="1.85"/><circle cx="545.3" cy="360.2" r="1.85"/><circle cx="548.2" cy="359.5" r="1.85"/><circle cx="551.1" cy="359.1" r="1.85"/><circle cx="554.1" cy="359" r="1.85"/><circle cx="557" cy="359.3" r="1.85"/><circle cx="559.9" cy="360.1" r="1.85"/><circle cx="562.9" cy="361.3" r="1.85"/><circle cx="565.8" cy="363" r="1.85"/><circle cx="568.7" cy="365.1" r="1.85"/><circle cx="571.6" cy="367.8" r="1.85"/><circle cx="574.6" cy="370.9" r="1.85"/><circle cx="577.5" cy="374.5" r="1.85"/><circle cx="580.4" cy="378.6" r="1.85"/><circle cx="583.4" cy="383" r="1.85"/><circle cx="586.3" cy="387.7" r="1.85"/><circle cx="589.2" cy="392.7" r="1.85"/><circle cx="592.2" cy="397.8" r="1.85"/><circle cx="595.1" cy="402.9" r="1.85"/><circle cx="598" cy="408" r="1.85"/><circle cx="600.9" cy="413.1" r="1.85"/><circle cx="603.9" cy="417.9" r="1.85"/><circle cx="606.8" cy="422.6" r="1.85"/><circle cx="609.7" cy="427.1" r="1.85"/><circle cx="612.7" cy="431.4" r="1.85"/><circle cx="615.6" cy="435.6" r="1.85"/><circle cx="618.5" cy="439.8" r="1.85"/><circle cx="621.5" cy="444" r="1.85"/><circle cx="624.4" cy="447.9" r="1.85"/><circle cx="627.3" cy="451.4" r="1.85"/><circle cx="630.2" cy="454.2" r="1.85"/><circle cx="633.2" cy="456.6" r="1.85"/><circle cx="636.1" cy="458.5" r="1.85"/><circle cx="639" cy="460.2" r="1.85"/><circle cx="642" cy="461.6" r="1.85"/><circle cx="644.9" cy="462.9" r="1.85"/><circle cx="647.8" cy="463.5" r="1.85"/></g>
<line x1="323" y1="463.6" x2="658" y2="463.6" stroke="#d838ec" stroke-width="1.8"/>
<line x1="392.9" y1="302" x2="392.9" y2="463" stroke="#1b2a80" stroke-width="2"/>
<path d="M392.9,459.8 L398.4,465.5 L392.9,471.2 L387.4,465.5 Z" fill="#1b2a80"/>
<line x1="358" y1="394.3" x2="424" y2="394.3" stroke="#1b2a80" stroke-width="2.2"/>
<path d="M354.2,394.3 L366,390.2 L364,394.3 L366,398.4 Z" fill="#1b2a80"/>
<path d="M426.8,394.3 L415,390.2 L417,394.3 L415,398.4 Z" fill="#1b2a80"/>
<text x="359.5" y="389.5" font-size="11" fill="#1b2a80" font-weight="bold" text-anchor="start" textLength="33.2" lengthAdjust="spacingAndGlyphs" stroke="#1b2a80" stroke-width="0.45">FWHM</text>
<text x="344.9" y="458.9" font-size="12" fill="#1b2a80" font-weight="bold" text-anchor="start" textLength="41.6" lengthAdjust="spacingAndGlyphs" stroke="#1b2a80" stroke-width="0.35">distance</text>
<line x1="577.2" y1="447" x2="577.2" y2="463" stroke="#9020f0" stroke-width="2.2"/>
<path d="M577.2,442.8 L581,450 L573.4,450 Z" fill="#9020f0"/>
<path d="M577.2,466.7 L581,459.5 L573.4,459.5 Z" fill="#9020f0"/>
<text x="563.2" y="439.9" font-size="12.5" fill="#9a28ee" font-weight="bold" text-anchor="start" textLength="21.6" lengthAdjust="spacingAndGlyphs" stroke="#9a28ee" stroke-width="0.35">amp</text>
<path d="M322.2,465 V249.7 H658.8 V465" fill="none" stroke="#000" stroke-width="2"/>
<line x1="321.2" y1="465" x2="659.8" y2="465" stroke="#000" stroke-width="2"/>
<line x1="322.4" y1="465" x2="322.4" y2="469" stroke="#000" stroke-width="2"/>
<line x1="350.4" y1="465" x2="350.4" y2="472" stroke="#000" stroke-width="2"/>
<text x="350.4" y="490.4" font-size="15.5" fill="#000" font-weight="normal" text-anchor="middle">2.6</text>
<line x1="378.4" y1="465" x2="378.4" y2="469" stroke="#000" stroke-width="2"/>
<line x1="406.5" y1="465" x2="406.5" y2="472" stroke="#000" stroke-width="2"/>
<text x="406.5" y="490.4" font-size="15.5" fill="#000" font-weight="normal" text-anchor="middle">2.8</text>
<line x1="434.5" y1="465" x2="434.5" y2="469" stroke="#000" stroke-width="2"/>
<line x1="462.5" y1="465" x2="462.5" y2="472" stroke="#000" stroke-width="2"/>
<text x="462.5" y="490.4" font-size="15.5" fill="#000" font-weight="normal" text-anchor="middle">3.0</text>
<line x1="490.5" y1="465" x2="490.5" y2="469" stroke="#000" stroke-width="2"/>
<line x1="518.6" y1="465" x2="518.6" y2="472" stroke="#000" stroke-width="2"/>
<text x="518.6" y="490.4" font-size="15.5" fill="#000" font-weight="normal" text-anchor="middle">3.2</text>
<line x1="546.6" y1="465" x2="546.6" y2="469" stroke="#000" stroke-width="2"/>
<line x1="574.6" y1="465" x2="574.6" y2="472" stroke="#000" stroke-width="2"/>
<text x="574.6" y="490.4" font-size="15.5" fill="#000" font-weight="normal" text-anchor="middle">3.4</text>
<line x1="602.7" y1="465" x2="602.7" y2="469" stroke="#000" stroke-width="2"/>
<line x1="630.7" y1="465" x2="630.7" y2="472" stroke="#000" stroke-width="2"/>
<text x="630.7" y="490.4" font-size="15.5" fill="#000" font-weight="normal" text-anchor="middle">3.6</text>
<text x="471" y="506.3" font-size="15.2" fill="#000" font-weight="normal" text-anchor="start" textLength="34" lengthAdjust="spacingAndGlyphs">R (Å)</text>
<text x="325.8" y="275.6" font-size="19" fill="#000" font-weight="bold" text-anchor="start" textLength="18.6" lengthAdjust="spacingAndGlyphs">d)</text>
<rect x="621" y="410" width="24" height="15.5" fill="#fff"/>
<text x="622.1" y="423.1" font-size="14.2" fill="#000" font-weight="normal" text-anchor="start" textLength="21.6" lengthAdjust="spacingAndGlyphs">0.4</text>
<line x1="649.7" y1="400.2" x2="649.7" y2="437.7" stroke="#000" stroke-width="2.4"/>
<text transform="translate(678.6,375.5) rotate(-90)" font-size="15.2" fill="#000" textLength="42.8" lengthAdjust="spacingAndGlyphs">G (Å<tspan dy="-6" font-size="10.5">-2</tspan><tspan dy="6">)</tspan></text>
<rect x="481.9" y="260.3" width="33.8" height="16.6" fill="url(#gbl)" stroke="#666" stroke-width="1"/>
<rect x="481.9" y="278.7" width="33.8" height="15.7" fill="#fff" stroke="#000" stroke-width="1.4"/>
<rect x="481.9" y="298.4" width="33.8" height="17" fill="url(#gml)" stroke="#777" stroke-width="1"/>
<text x="519.7" y="272.9" font-size="12.7" fill="#1a3a8c" font-weight="bold" text-anchor="start" textLength="27.5" lengthAdjust="spacingAndGlyphs">Pt-Pt</text>
<text x="519.7" y="290.9" font-size="13" fill="#aaaaaa" textLength="29.3" lengthAdjust="spacingAndGlyphs">Al<tspan font-size="9" dy="3">2</tspan><tspan dy="-3">O</tspan><tspan font-size="9" dy="3">3</tspan></text>
<text x="519.7" y="310.7" font-size="13.5" fill="#b028e8" textLength="69" lengthAdjust="spacingAndGlyphs">(Pt-supp)<tspan font-size="9.5" dy="3.5">long</tspan></text>
<circle cx="599.3" cy="267.6" r="2.3" fill="#000"/>
<text x="620.1" y="272.3" font-size="14" fill="#000" font-weight="normal" text-anchor="start" textLength="19.7" lengthAdjust="spacingAndGlyphs">exp</text>
<line x1="590.3" y1="285.1" x2="617.8" y2="285.1" stroke="#e0202a" stroke-width="2.9"/>
<text x="620.1" y="290.4" font-size="14" fill="#000" font-weight="normal" text-anchor="start" textLength="11.8" lengthAdjust="spacingAndGlyphs">fit</text>
</svg>
</body></html>
